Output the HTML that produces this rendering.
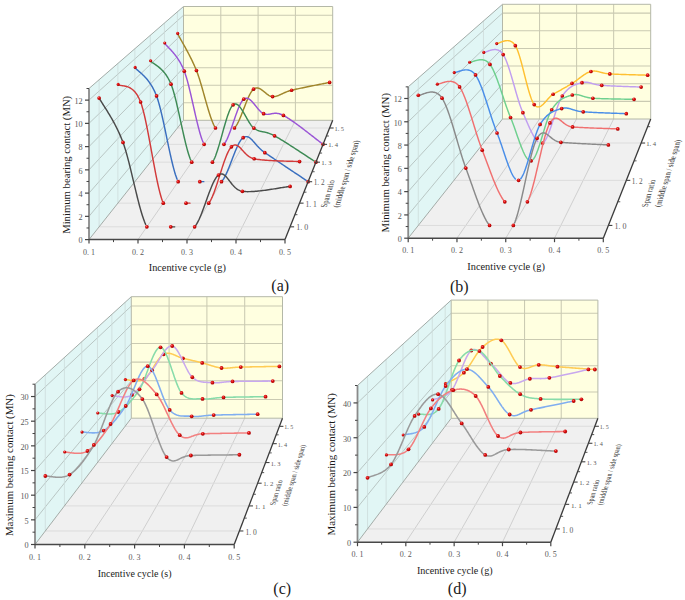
<!DOCTYPE html>
<html><head><meta charset="utf-8"><style>
html,body{margin:0;padding:0;background:#fff;}
svg{display:block;}
.ser{font-family:"Liberation Serif",serif;fill:#4a4a4a;}
.t{fill:#1a1a1a;}
.sl{fill:#5a5a5a;}
.sp{fill:#333;}
.sans{font-family:"Liberation Sans",sans-serif;fill:#1a1a1a;}
</style></head><body>
<svg width="685" height="600" viewBox="0 0 685 600">
<defs>
<radialGradient id="ball" cx="0.38" cy="0.35" r="0.7">
<stop offset="0" stop-color="#ff7a7a"/><stop offset="0.35" stop-color="#e01010"/><stop offset="1" stop-color="#a00000"/>
</radialGradient>
</defs>
<rect width="685" height="600" fill="#fff"/>
<polygon points="89.00,239.60 89.00,88.50 183.50,6.50 183.50,120.30" fill="#e1f6f5" stroke="none" stroke-width="0"/>
<polygon points="183.50,120.30 332.70,120.30 332.70,6.50 183.50,6.50" fill="#ffffe0" stroke="none" stroke-width="0"/>
<polygon points="89.00,239.60 285.00,239.60 332.70,120.30 183.50,120.30" fill="#f0f0f0" stroke="none" stroke-width="0"/>
<line x1="89.00" y1="216.35" x2="183.50" y2="102.79" stroke="#a8b1af" stroke-width="0.7" />
<line x1="183.50" y1="102.79" x2="332.70" y2="102.79" stroke="#cacab2" stroke-width="1.05" />
<line x1="89.00" y1="193.11" x2="183.50" y2="85.28" stroke="#a8b1af" stroke-width="0.7" />
<line x1="183.50" y1="85.28" x2="332.70" y2="85.28" stroke="#cacab2" stroke-width="1.05" />
<line x1="89.00" y1="169.86" x2="183.50" y2="67.78" stroke="#a8b1af" stroke-width="0.7" />
<line x1="183.50" y1="67.78" x2="332.70" y2="67.78" stroke="#cacab2" stroke-width="1.05" />
<line x1="89.00" y1="146.62" x2="183.50" y2="50.27" stroke="#a8b1af" stroke-width="0.7" />
<line x1="183.50" y1="50.27" x2="332.70" y2="50.27" stroke="#cacab2" stroke-width="1.05" />
<line x1="89.00" y1="123.37" x2="183.50" y2="32.76" stroke="#a8b1af" stroke-width="0.7" />
<line x1="183.50" y1="32.76" x2="332.70" y2="32.76" stroke="#cacab2" stroke-width="1.05" />
<line x1="89.00" y1="100.12" x2="183.50" y2="15.25" stroke="#a8b1af" stroke-width="0.7" />
<line x1="183.50" y1="15.25" x2="332.70" y2="15.25" stroke="#cacab2" stroke-width="1.05" />
<line x1="138.00" y1="239.60" x2="220.80" y2="120.30" stroke="#b8b8b8" stroke-width="0.6" />
<line x1="220.80" y1="120.30" x2="220.80" y2="6.50" stroke="#cacab2" stroke-width="1.05" />
<line x1="187.00" y1="239.60" x2="258.10" y2="120.30" stroke="#b8b8b8" stroke-width="0.6" />
<line x1="258.10" y1="120.30" x2="258.10" y2="6.50" stroke="#cacab2" stroke-width="1.05" />
<line x1="236.00" y1="239.60" x2="295.40" y2="120.30" stroke="#b8b8b8" stroke-width="0.6" />
<line x1="295.40" y1="120.30" x2="295.40" y2="6.50" stroke="#cacab2" stroke-width="1.05" />
<line x1="99.13" y1="226.82" x2="99.13" y2="79.71" stroke="#cddcda" stroke-width="0.8" />
<line x1="99.13" y1="226.82" x2="290.11" y2="226.82" stroke="#dcdcdc" stroke-width="1.0" />
<line x1="117.88" y1="203.15" x2="117.88" y2="63.44" stroke="#cddcda" stroke-width="0.8" />
<line x1="117.88" y1="203.15" x2="299.57" y2="203.15" stroke="#dcdcdc" stroke-width="1.0" />
<line x1="134.86" y1="181.70" x2="134.86" y2="48.71" stroke="#cddcda" stroke-width="0.8" />
<line x1="134.86" y1="181.70" x2="308.15" y2="181.70" stroke="#dcdcdc" stroke-width="1.0" />
<line x1="150.32" y1="162.19" x2="150.32" y2="35.29" stroke="#cddcda" stroke-width="0.8" />
<line x1="150.32" y1="162.19" x2="315.95" y2="162.19" stroke="#dcdcdc" stroke-width="1.0" />
<line x1="164.45" y1="144.35" x2="164.45" y2="23.03" stroke="#cddcda" stroke-width="0.8" />
<line x1="164.45" y1="144.35" x2="323.08" y2="144.35" stroke="#dcdcdc" stroke-width="1.0" />
<line x1="177.41" y1="127.99" x2="177.41" y2="11.78" stroke="#cddcda" stroke-width="0.8" />
<line x1="177.41" y1="127.99" x2="329.63" y2="127.99" stroke="#dcdcdc" stroke-width="1.0" />
<line x1="89.00" y1="88.50" x2="183.50" y2="6.50" stroke="#9aa39e" stroke-width="0.9" />
<line x1="89.00" y1="239.60" x2="183.50" y2="120.30" stroke="#9aa39e" stroke-width="0.9" />
<polygon points="183.50,120.30 332.70,120.30 332.70,6.50 183.50,6.50" fill="none" stroke="#b4b8a8" stroke-width="1.0"/>
<path d="M177.41,33.42 L177.66,33.90 L177.93,34.41 L178.23,34.95 L178.54,35.53 L178.88,36.14 L179.23,36.77 L179.61,37.44 L180.00,38.13 L180.41,38.86 L180.83,39.60 L181.27,40.38 L181.72,41.18 L182.19,42.00 L182.66,42.84 L183.15,43.71 L183.65,44.60 L184.16,45.52 L184.68,46.45 L185.20,47.40 L185.74,48.37 L186.27,49.36 L186.82,50.36 L187.36,51.39 L187.91,52.42 L188.47,53.48 L189.02,54.54 L189.58,55.62 L190.13,56.72 L190.68,57.82 L191.24,58.93 L191.78,60.06 L192.33,61.19 L192.87,62.34 L193.40,63.49 L193.93,64.65 L194.45,65.81 L194.96,66.98 L195.46,68.15 L195.96,69.33 L196.44,70.51 L196.91,71.72 L197.39,72.99 L197.87,74.32 L198.34,75.69 L198.82,77.11 L199.29,78.58 L199.77,80.08 L200.24,81.62 L200.72,83.19 L201.19,84.79 L201.67,86.42 L202.15,88.07 L202.62,89.73 L203.10,91.41 L203.57,93.10 L204.05,94.79 L204.52,96.49 L205.00,98.19 L205.48,99.88 L205.95,101.57 L206.43,103.24 L206.90,104.90 L207.38,106.54 L207.85,108.16 L208.33,109.75 L208.81,111.31 L209.28,112.84 L209.76,114.33 L210.23,115.78 L210.71,117.18 L211.18,118.54 L211.66,119.84 L212.14,121.09 L212.61,122.29 L213.09,123.41 L213.56,124.48 L214.04,125.47 L214.51,126.39" fill="none" stroke="#a0852a" stroke-width="1.45" stroke-linejoin="round" stroke-linecap="round"/>
<path d="M235.44,126.87 L235.92,126.20 L236.39,125.47 L236.87,124.68 L237.35,123.83 L237.82,122.92 L238.30,121.97 L238.77,120.97 L239.25,119.93 L239.72,118.86 L240.20,117.74 L240.68,116.60 L241.15,115.44 L241.63,114.25 L242.10,113.04 L242.58,111.83 L243.05,110.60 L243.53,109.36 L244.01,108.13 L244.48,106.89 L244.96,105.67 L245.43,104.45 L245.91,103.25 L246.38,102.06 L246.86,100.90 L247.34,99.76 L247.81,98.66 L248.29,97.58 L248.76,96.55 L249.24,95.56 L249.71,94.61 L250.19,93.72 L250.66,92.88 L251.14,92.10 L251.62,91.38 L252.09,90.72 L252.57,90.14 L253.04,89.63 L253.52,89.19 L253.99,88.83 L254.47,88.54 L254.95,88.30 L255.42,88.13 L255.90,88.00 L256.37,87.93 L256.85,87.91 L257.32,87.94 L257.80,88.01 L258.28,88.12 L258.75,88.27 L259.23,88.46 L259.70,88.67 L260.18,88.92 L260.65,89.20 L261.13,89.49 L261.61,89.81 L262.08,90.15 L262.56,90.51 L263.03,90.87 L263.51,91.25 L263.98,91.64 L264.46,92.03 L264.93,92.42 L265.41,92.81 L265.89,93.19 L266.36,93.57 L266.84,93.94 L267.31,94.30 L267.79,94.64 L268.26,94.97 L268.74,95.27 L269.22,95.55 L269.69,95.80 L270.17,96.03 L270.64,96.22 L271.12,96.38 L271.59,96.50 L272.07,96.58 L272.55,96.61 L273.02,96.62 L273.47,96.61 L273.92,96.58 L274.36,96.54 L274.79,96.49 L275.22,96.42 L275.64,96.34 L276.05,96.25 L276.45,96.14 L276.86,96.03 L277.26,95.90 L277.65,95.77 L278.05,95.62 L278.45,95.47 L278.84,95.31 L279.24,95.14 L279.64,94.96 L280.05,94.78 L280.46,94.59 L280.87,94.39 L281.29,94.19 L281.72,93.99 L282.15,93.78 L282.59,93.57 L283.04,93.36 L283.51,93.15 L283.98,92.93 L284.47,92.71 L284.97,92.50 L285.48,92.28 L286.01,92.07 L286.55,91.85 L287.11,91.64 L287.69,91.43 L288.28,91.23 L288.90,91.02 L289.54,90.83 L290.19,90.63 L290.87,90.45 L291.57,90.27 L292.33,90.08 L293.13,89.89 L293.98,89.69 L294.87,89.48 L295.80,89.27 L296.76,89.06 L297.76,88.84 L298.78,88.62 L299.83,88.39 L300.91,88.16 L302.01,87.93 L303.13,87.70 L304.26,87.46 L305.40,87.23 L306.56,86.99 L307.72,86.76 L308.88,86.52 L310.05,86.29 L311.21,86.05 L312.37,85.82 L313.52,85.59 L314.66,85.36 L315.79,85.14 L316.90,84.92 L317.99,84.71 L319.06,84.50 L320.10,84.29 L321.12,84.09 L322.10,83.90 L323.05,83.71 L323.97,83.53 L324.84,83.36 L325.68,83.19 L326.47,83.04 L327.21,82.89 L327.89,82.75 L328.53,82.62 L329.11,82.51 L329.63,82.40" fill="none" stroke="#a0852a" stroke-width="1.45" stroke-linejoin="round" stroke-linecap="round"/>
<circle cx="177.71" cy="33.42" r="1.57" fill="url(#ball)"/>
<circle cx="196.44" cy="70.51" r="1.85" fill="url(#ball)"/>
<circle cx="215.46" cy="127.99" r="1.85" fill="url(#ball)"/>
<circle cx="234.49" cy="127.99" r="1.85" fill="url(#ball)"/>
<circle cx="253.52" cy="89.19" r="1.85" fill="url(#ball)"/>
<circle cx="272.55" cy="96.61" r="1.85" fill="url(#ball)"/>
<circle cx="291.57" cy="90.27" r="1.85" fill="url(#ball)"/>
<circle cx="329.63" cy="82.40" r="1.85" fill="url(#ball)"/>
<path d="M164.45,43.00 L164.71,43.36 L164.99,43.72 L165.30,44.10 L165.63,44.48 L165.98,44.87 L166.35,45.27 L166.74,45.69 L167.14,46.12 L167.57,46.56 L168.01,47.01 L168.47,47.48 L168.94,47.97 L169.42,48.47 L169.92,48.99 L170.43,49.53 L170.95,50.09 L171.48,50.67 L172.02,51.26 L172.57,51.88 L173.12,52.52 L173.68,53.19 L174.25,53.87 L174.82,54.59 L175.39,55.32 L175.97,56.09 L176.55,56.87 L177.13,57.69 L177.70,58.54 L178.28,59.41 L178.85,60.32 L179.43,61.25 L179.99,62.22 L180.56,63.22 L181.11,64.25 L181.66,65.32 L182.20,66.42 L182.74,67.56 L183.26,68.73 L183.78,69.94 L184.28,71.19 L184.77,72.50 L185.27,73.92 L185.76,75.42 L186.26,77.01 L186.76,78.68 L187.25,80.42 L187.75,82.24 L188.24,84.11 L188.74,86.05 L189.23,88.03 L189.73,90.06 L190.23,92.14 L190.72,94.24 L191.22,96.38 L191.71,98.54 L192.21,100.73 L192.70,102.92 L193.20,105.12 L193.70,107.33 L194.19,109.53 L194.69,111.72 L195.18,113.90 L195.68,116.06 L196.17,118.20 L196.67,120.30 L197.17,122.36 L197.66,124.39 L198.16,126.36 L198.65,128.29 L199.15,130.15 L199.64,131.95 L200.14,133.68 L200.64,135.34 L201.13,136.91 L201.63,138.40 L202.12,139.80 L202.62,141.10 L203.11,142.29" fill="none" stroke="#9a55d6" stroke-width="1.45" stroke-linejoin="round" stroke-linecap="round"/>
<path d="M224.93,143.04 L225.42,142.26 L225.92,141.40 L226.41,140.46 L226.91,139.45 L227.41,138.38 L227.90,137.26 L228.40,136.07 L228.89,134.84 L229.39,133.56 L229.88,132.24 L230.38,130.89 L230.88,129.51 L231.37,128.10 L231.87,126.67 L232.36,125.23 L232.86,123.78 L233.35,122.32 L233.85,120.86 L234.35,119.41 L234.84,117.97 L235.34,116.54 L235.83,115.13 L236.33,113.74 L236.83,112.38 L237.32,111.06 L237.82,109.77 L238.31,108.53 L238.81,107.34 L239.30,106.20 L239.80,105.12 L240.30,104.11 L240.79,103.16 L241.29,102.29 L241.78,101.49 L242.28,100.78 L242.77,100.15 L243.27,99.62 L243.77,99.18 L244.26,98.84 L244.76,98.58 L245.25,98.39 L245.75,98.27 L246.24,98.23 L246.74,98.24 L247.24,98.32 L247.73,98.46 L248.23,98.66 L248.72,98.90 L249.22,99.20 L249.71,99.54 L250.21,99.92 L250.71,100.34 L251.20,100.80 L251.70,101.29 L252.19,101.80 L252.69,102.34 L253.18,102.90 L253.68,103.48 L254.18,104.08 L254.67,104.68 L255.17,105.30 L255.66,105.91 L256.16,106.53 L256.65,107.15 L257.15,107.76 L257.65,108.36 L258.14,108.95 L258.64,109.53 L259.13,110.08 L259.63,110.61 L260.12,111.12 L260.62,111.60 L261.12,112.04 L261.61,112.45 L262.11,112.82 L262.60,113.14 L263.10,113.42 L263.59,113.65 L264.08,113.84 L264.56,113.99 L265.03,114.12 L265.49,114.22 L265.94,114.29 L266.38,114.34 L266.81,114.37 L267.24,114.38 L267.67,114.37 L268.09,114.35 L268.50,114.31 L268.92,114.26 L269.33,114.20 L269.75,114.13 L270.16,114.05 L270.57,113.97 L270.99,113.88 L271.41,113.80 L271.84,113.71 L272.27,113.63 L272.71,113.55 L273.15,113.48 L273.60,113.42 L274.06,113.37 L274.54,113.33 L275.02,113.30 L275.51,113.29 L276.02,113.29 L276.54,113.32 L277.07,113.37 L277.62,113.44 L278.19,113.53 L278.77,113.65 L279.38,113.81 L280.00,113.99 L280.64,114.20 L281.30,114.45 L281.99,114.74 L282.69,115.06 L283.42,115.42 L284.21,115.84 L285.05,116.32 L285.93,116.84 L286.86,117.40 L287.83,118.02 L288.83,118.67 L289.87,119.36 L290.94,120.08 L292.03,120.84 L293.16,121.62 L294.30,122.43 L295.46,123.27 L296.64,124.13 L297.84,125.00 L299.04,125.89 L300.25,126.79 L301.46,127.70 L302.68,128.62 L303.89,129.54 L305.10,130.46 L306.30,131.38 L307.48,132.29 L308.66,133.20 L309.82,134.10 L310.95,134.98 L312.07,135.85 L313.15,136.69 L314.21,137.52 L315.24,138.32 L316.23,139.10 L317.19,139.84 L318.10,140.55 L318.97,141.22 L319.79,141.86 L320.56,142.45 L321.28,143.00" fill="none" stroke="#9a55d6" stroke-width="1.45" stroke-linejoin="round" stroke-linecap="round"/>
<circle cx="164.75" cy="43.00" r="1.57" fill="url(#ball)"/>
<circle cx="184.28" cy="71.19" r="1.85" fill="url(#ball)"/>
<circle cx="204.11" cy="144.35" r="1.85" fill="url(#ball)"/>
<circle cx="223.94" cy="144.35" r="1.85" fill="url(#ball)"/>
<circle cx="243.77" cy="99.18" r="1.85" fill="url(#ball)"/>
<circle cx="263.59" cy="113.65" r="1.85" fill="url(#ball)"/>
<circle cx="283.42" cy="115.42" r="1.85" fill="url(#ball)"/>
<circle cx="323.08" cy="144.35" r="1.85" fill="url(#ball)"/>
<path d="M150.32,60.77 L150.59,61.06 L150.89,61.35 L151.21,61.63 L151.55,61.92 L151.92,62.20 L152.30,62.49 L152.71,62.78 L153.13,63.08 L153.58,63.39 L154.04,63.70 L154.52,64.02 L155.01,64.36 L155.51,64.70 L156.03,65.06 L156.57,65.44 L157.11,65.83 L157.66,66.25 L158.23,66.68 L158.80,67.13 L159.38,67.61 L159.96,68.11 L160.55,68.64 L161.15,69.19 L161.75,69.77 L162.35,70.39 L162.95,71.03 L163.56,71.71 L164.16,72.42 L164.76,73.17 L165.36,73.95 L165.96,74.78 L166.55,75.64 L167.14,76.55 L167.72,77.50 L168.29,78.50 L168.86,79.54 L169.42,80.63 L169.96,81.77 L170.50,82.96 L171.02,84.20 L171.54,85.52 L172.06,86.96 L172.58,88.50 L173.09,90.14 L173.61,91.87 L174.13,93.68 L174.65,95.58 L175.16,97.55 L175.68,99.59 L176.20,101.69 L176.72,103.84 L177.23,106.04 L177.75,108.28 L178.27,110.56 L178.79,112.87 L179.30,115.21 L179.82,117.56 L180.34,119.92 L180.86,122.29 L181.37,124.66 L181.89,127.02 L182.41,129.36 L182.93,131.69 L183.45,133.99 L183.96,136.26 L184.48,138.49 L185.00,140.67 L185.52,142.80 L186.03,144.88 L186.55,146.90 L187.07,148.84 L187.59,150.71 L188.10,152.50 L188.62,154.19 L189.14,155.80 L189.66,157.30 L190.17,158.70 L190.69,159.98" fill="none" stroke="#3d8a55" stroke-width="1.45" stroke-linejoin="round" stroke-linecap="round"/>
<path d="M213.47,160.52 L213.98,159.52 L214.50,158.41 L215.02,157.21 L215.54,155.92 L216.05,154.54 L216.57,153.09 L217.09,151.57 L217.61,149.98 L218.12,148.34 L218.64,146.65 L219.16,144.91 L219.68,143.13 L220.20,141.32 L220.71,139.49 L221.23,137.64 L221.75,135.77 L222.27,133.90 L222.78,132.03 L223.30,130.17 L223.82,128.32 L224.34,126.50 L224.85,124.69 L225.37,122.93 L225.89,121.20 L226.41,119.52 L226.92,117.89 L227.44,116.32 L227.96,114.81 L228.48,113.38 L228.99,112.02 L229.51,110.75 L230.03,109.58 L230.55,108.50 L231.06,107.52 L231.58,106.66 L232.10,105.91 L232.62,105.29 L233.14,104.79 L233.65,104.42 L234.17,104.16 L234.69,103.99 L235.21,103.93 L235.72,103.95 L236.24,104.07 L236.76,104.26 L237.28,104.54 L237.79,104.89 L238.31,105.31 L238.83,105.80 L239.35,106.35 L239.86,106.95 L240.38,107.61 L240.90,108.31 L241.42,109.06 L241.93,109.85 L242.45,110.67 L242.97,111.51 L243.49,112.39 L244.00,113.28 L244.52,114.19 L245.04,115.11 L245.56,116.04 L246.08,116.97 L246.59,117.90 L247.11,118.82 L247.63,119.73 L248.15,120.62 L248.66,121.50 L249.18,122.34 L249.70,123.16 L250.22,123.95 L250.73,124.70 L251.25,125.40 L251.77,126.06 L252.29,126.66 L252.80,127.21 L253.32,127.70 L253.84,128.12 L254.35,128.49 L254.85,128.84 L255.34,129.15 L255.82,129.44 L256.29,129.71 L256.75,129.95 L257.20,130.17 L257.65,130.37 L258.09,130.55 L258.53,130.71 L258.97,130.86 L259.40,131.00 L259.83,131.12 L260.26,131.23 L260.69,131.34 L261.13,131.44 L261.56,131.53 L262.00,131.62 L262.45,131.70 L262.90,131.79 L263.35,131.88 L263.82,131.96 L264.29,132.06 L264.77,132.16 L265.26,132.26 L265.77,132.38 L266.28,132.50 L266.81,132.64 L267.35,132.79 L267.91,132.96 L268.49,133.15 L269.08,133.35 L269.69,133.57 L270.32,133.82 L270.96,134.08 L271.63,134.38 L272.33,134.70 L273.04,135.05 L273.78,135.42 L274.54,135.83 L275.37,136.29 L276.24,136.79 L277.16,137.32 L278.13,137.89 L279.14,138.49 L280.19,139.13 L281.27,139.79 L282.39,140.47 L283.53,141.18 L284.71,141.91 L285.90,142.66 L287.11,143.43 L288.35,144.21 L289.59,145.01 L290.85,145.81 L292.11,146.62 L293.38,147.44 L294.64,148.26 L295.91,149.08 L297.17,149.90 L298.42,150.72 L299.66,151.53 L300.89,152.33 L302.10,153.12 L303.29,153.90 L304.45,154.67 L305.59,155.41 L306.69,156.14 L307.76,156.84 L308.80,157.52 L309.79,158.18 L310.75,158.80 L311.65,159.40 L312.51,159.96 L313.32,160.49 L314.07,160.97" fill="none" stroke="#3d8a55" stroke-width="1.45" stroke-linejoin="round" stroke-linecap="round"/>
<circle cx="150.62" cy="60.77" r="1.57" fill="url(#ball)"/>
<circle cx="171.02" cy="84.20" r="1.85" fill="url(#ball)"/>
<circle cx="191.73" cy="162.19" r="1.85" fill="url(#ball)"/>
<circle cx="212.43" cy="162.19" r="1.85" fill="url(#ball)"/>
<circle cx="233.14" cy="104.79" r="1.85" fill="url(#ball)"/>
<circle cx="253.84" cy="128.12" r="1.85" fill="url(#ball)"/>
<circle cx="274.54" cy="135.83" r="1.85" fill="url(#ball)"/>
<circle cx="315.95" cy="162.19" r="1.85" fill="url(#ball)"/>
<path d="M134.86,67.43 L135.14,67.78 L135.45,68.14 L135.79,68.50 L136.15,68.87 L136.53,69.24 L136.94,69.62 L137.36,70.00 L137.81,70.39 L138.27,70.80 L138.75,71.22 L139.25,71.65 L139.77,72.09 L140.30,72.55 L140.84,73.03 L141.40,73.53 L141.97,74.05 L142.54,74.58 L143.13,75.15 L143.73,75.73 L144.34,76.34 L144.95,76.98 L145.57,77.64 L146.19,78.34 L146.82,79.07 L147.45,79.82 L148.08,80.62 L148.71,81.44 L149.34,82.31 L149.97,83.21 L150.60,84.15 L151.22,85.12 L151.84,86.15 L152.46,87.21 L153.07,88.32 L153.67,89.47 L154.26,90.67 L154.84,91.92 L155.41,93.22 L155.97,94.57 L156.52,95.97 L157.06,97.46 L157.60,99.07 L158.15,100.79 L158.69,102.61 L159.23,104.54 L159.77,106.55 L160.31,108.65 L160.85,110.83 L161.40,113.08 L161.94,115.39 L162.48,117.77 L163.02,120.19 L163.56,122.66 L164.10,125.16 L164.64,127.70 L165.19,130.26 L165.73,132.84 L166.27,135.43 L166.81,138.03 L167.35,140.62 L167.89,143.21 L168.43,145.78 L168.98,148.32 L169.52,150.84 L170.06,153.32 L170.60,155.76 L171.14,158.15 L171.68,160.48 L172.23,162.76 L172.77,164.96 L173.31,167.09 L173.85,169.13 L174.39,171.08 L174.93,172.94 L175.47,174.70 L176.02,176.35 L176.56,177.88 L177.10,179.28" fill="none" stroke="#3a6fbf" stroke-width="1.45" stroke-linejoin="round" stroke-linecap="round"/>
<path d="M222.59,180.43 L223.13,179.66 L223.67,178.82 L224.21,177.91 L224.75,176.93 L225.30,175.88 L225.84,174.78 L226.38,173.62 L226.92,172.42 L227.46,171.17 L228.00,169.88 L228.54,168.56 L229.09,167.21 L229.63,165.84 L230.17,164.45 L230.71,163.04 L231.25,161.62 L231.79,160.20 L232.33,158.77 L232.88,157.36 L233.42,155.95 L233.96,154.55 L234.50,153.18 L235.04,151.83 L235.58,150.50 L236.13,149.22 L236.67,147.96 L237.21,146.76 L237.75,145.60 L238.29,144.49 L238.83,143.44 L239.37,142.46 L239.92,141.54 L240.46,140.69 L241.00,139.92 L241.54,139.24 L242.08,138.63 L242.62,138.13 L243.17,137.71 L243.70,137.38 L244.22,137.11 L244.73,136.91 L245.23,136.76 L245.72,136.66 L246.21,136.62 L246.68,136.64 L247.15,136.70 L247.61,136.81 L248.07,136.97 L248.53,137.17 L248.98,137.42 L249.43,137.70 L249.88,138.02 L250.34,138.38 L250.79,138.77 L251.25,139.19 L251.71,139.64 L252.17,140.11 L252.64,140.62 L253.12,141.14 L253.60,141.69 L254.10,142.25 L254.60,142.83 L255.12,143.42 L255.64,144.03 L256.18,144.65 L256.74,145.27 L257.30,145.91 L257.89,146.54 L258.49,147.18 L259.11,147.82 L259.75,148.45 L260.40,149.08 L261.08,149.70 L261.78,150.32 L262.51,150.92 L263.25,151.51 L264.03,152.09 L264.83,152.65 L265.69,153.23 L266.60,153.85 L267.57,154.50 L268.58,155.18 L269.64,155.89 L270.73,156.63 L271.87,157.40 L273.03,158.18 L274.23,158.99 L275.46,159.81 L276.71,160.65 L277.98,161.50 L279.27,162.36 L280.57,163.24 L281.88,164.12 L283.20,165.00 L284.53,165.89 L285.86,166.78 L287.18,167.67 L288.50,168.55 L289.81,169.43 L291.11,170.30 L292.39,171.16 L293.66,172.00 L294.90,172.83 L296.11,173.65 L297.30,174.44 L298.46,175.22 L299.58,175.97 L300.67,176.69 L301.71,177.39 L302.70,178.06 L303.65,178.69 L304.55,179.29 L305.39,179.86 L306.18,180.38" fill="none" stroke="#3a6fbf" stroke-width="1.45" stroke-linejoin="round" stroke-linecap="round"/>
<line x1="199.84" y1="181.70" x2="203.84" y2="181.70" stroke="#3a6fbf" stroke-width="1.305" stroke-linecap="round"/>
<circle cx="135.16" cy="67.43" r="1.57" fill="url(#ball)"/>
<circle cx="156.52" cy="95.97" r="1.85" fill="url(#ball)"/>
<circle cx="178.18" cy="181.70" r="1.85" fill="url(#ball)"/>
<circle cx="199.84" cy="181.70" r="1.85" fill="url(#ball)"/>
<circle cx="221.50" cy="181.70" r="1.85" fill="url(#ball)"/>
<circle cx="243.17" cy="137.71" r="1.85" fill="url(#ball)"/>
<circle cx="264.83" cy="152.65" r="1.85" fill="url(#ball)"/>
<circle cx="308.15" cy="181.70" r="1.85" fill="url(#ball)"/>
<path d="M117.88,84.40 L118.17,84.61 L118.50,84.78 L118.85,84.94 L119.23,85.07 L119.63,85.19 L120.05,85.29 L120.50,85.38 L120.96,85.46 L121.45,85.54 L121.96,85.61 L122.48,85.68 L123.02,85.76 L123.57,85.85 L124.15,85.94 L124.73,86.05 L125.32,86.17 L125.93,86.32 L126.55,86.48 L127.18,86.67 L127.81,86.89 L128.45,87.14 L129.10,87.43 L129.76,87.75 L130.41,88.12 L131.07,88.52 L131.73,88.98 L132.40,89.49 L133.06,90.04 L133.72,90.66 L134.38,91.33 L135.03,92.07 L135.68,92.87 L136.33,93.74 L136.96,94.69 L137.59,95.70 L138.21,96.80 L138.82,97.98 L139.42,99.24 L140.01,100.59 L140.59,102.02 L141.16,103.59 L141.72,105.32 L142.29,107.19 L142.86,109.21 L143.43,111.36 L143.99,113.63 L144.56,116.03 L145.13,118.52 L145.70,121.12 L146.27,123.80 L146.83,126.57 L147.40,129.41 L147.97,132.31 L148.54,135.27 L149.10,138.27 L149.67,141.32 L150.24,144.39 L150.81,147.48 L151.38,150.58 L151.94,153.69 L152.51,156.79 L153.08,159.87 L153.65,162.94 L154.22,165.97 L154.78,168.96 L155.35,171.91 L155.92,174.79 L156.49,177.61 L157.05,180.36 L157.62,183.02 L158.19,185.59 L158.76,188.06 L159.33,190.42 L159.89,192.66 L160.46,194.77 L161.03,196.75 L161.60,198.59 L162.16,200.27 L162.73,201.80" fill="none" stroke="#d23a3a" stroke-width="1.45" stroke-linejoin="round" stroke-linecap="round"/>
<path d="M209.86,201.52 L210.43,200.55 L211.00,199.49 L211.56,198.34 L212.13,197.10 L212.70,195.78 L213.27,194.40 L213.84,192.94 L214.40,191.43 L214.97,189.86 L215.54,188.24 L216.11,186.58 L216.67,184.89 L217.24,183.16 L217.81,181.40 L218.38,179.63 L218.95,177.84 L219.51,176.04 L220.08,174.25 L220.65,172.45 L221.22,170.67 L221.78,168.90 L222.35,167.15 L222.92,165.43 L223.49,163.74 L224.06,162.09 L224.62,160.49 L225.19,158.93 L225.76,157.44 L226.33,156.00 L226.89,154.63 L227.46,153.34 L228.03,152.12 L228.60,150.99 L229.17,149.96 L229.73,149.02 L230.30,148.18 L230.87,147.45 L231.44,146.84 L232.00,146.33 L232.55,145.90 L233.08,145.57 L233.61,145.31 L234.12,145.12 L234.63,145.02 L235.13,144.98 L235.62,145.00 L236.10,145.09 L236.58,145.23 L237.06,145.44 L237.54,145.69 L238.01,145.99 L238.48,146.33 L238.96,146.71 L239.43,147.13 L239.91,147.59 L240.39,148.07 L240.88,148.58 L241.37,149.11 L241.87,149.66 L242.38,150.22 L242.90,150.79 L243.43,151.38 L243.97,151.96 L244.52,152.55 L245.09,153.13 L245.67,153.71 L246.26,154.27 L246.87,154.83 L247.50,155.36 L248.15,155.87 L248.82,156.36 L249.51,156.82 L250.22,157.24 L250.96,157.63 L251.72,157.99 L252.50,158.29 L253.31,158.55 L254.15,158.76 L255.05,158.95 L256.01,159.12 L257.02,159.29 L258.09,159.44 L259.19,159.59 L260.34,159.73 L261.53,159.86 L262.76,159.98 L264.01,160.09 L265.30,160.20 L266.61,160.30 L267.94,160.39 L269.29,160.48 L270.66,160.56 L272.03,160.63 L273.42,160.70 L274.81,160.77 L276.20,160.83 L277.59,160.88 L278.97,160.93 L280.35,160.98 L281.71,161.02 L283.05,161.07 L284.38,161.10 L285.68,161.14 L286.96,161.17 L288.20,161.20 L289.42,161.23 L290.59,161.26 L291.73,161.29 L292.82,161.32 L293.87,161.35 L294.86,161.37 L295.80,161.40 L296.68,161.43 L297.51,161.46 L298.27,161.49 L298.96,161.52 L299.57,161.56" fill="none" stroke="#d23a3a" stroke-width="1.45" stroke-linejoin="round" stroke-linecap="round"/>
<line x1="186.01" y1="203.15" x2="190.01" y2="203.15" stroke="#d23a3a" stroke-width="1.305" stroke-linecap="round"/>
<circle cx="118.18" cy="84.40" r="1.57" fill="url(#ball)"/>
<circle cx="140.59" cy="102.02" r="1.85" fill="url(#ball)"/>
<circle cx="163.30" cy="203.15" r="1.85" fill="url(#ball)"/>
<circle cx="186.01" cy="203.15" r="1.85" fill="url(#ball)"/>
<circle cx="208.72" cy="203.15" r="1.85" fill="url(#ball)"/>
<circle cx="231.44" cy="146.84" r="1.85" fill="url(#ball)"/>
<circle cx="254.15" cy="158.76" r="1.85" fill="url(#ball)"/>
<circle cx="299.57" cy="161.56" r="1.85" fill="url(#ball)"/>
<path d="M99.13,98.05 L99.44,98.62 L99.78,99.22 L100.15,99.84 L100.55,100.50 L100.97,101.19 L101.41,101.91 L101.88,102.66 L102.37,103.44 L102.88,104.24 L103.41,105.08 L103.96,105.94 L104.53,106.83 L105.12,107.75 L105.72,108.70 L106.33,109.67 L106.96,110.67 L107.59,111.70 L108.24,112.76 L108.90,113.84 L109.57,114.95 L110.24,116.08 L110.93,117.25 L111.61,118.43 L112.30,119.65 L113.00,120.89 L113.69,122.15 L114.39,123.44 L115.08,124.75 L115.78,126.09 L116.47,127.46 L117.16,128.85 L117.84,130.26 L118.52,131.69 L119.19,133.15 L119.85,134.64 L120.50,136.15 L121.15,137.68 L121.78,139.23 L122.39,140.80 L123.00,142.40 L123.60,144.06 L124.19,145.82 L124.79,147.67 L125.39,149.60 L125.98,151.62 L126.58,153.70 L127.18,155.86 L127.77,158.07 L128.37,160.35 L128.97,162.67 L129.56,165.04 L130.16,167.44 L130.76,169.88 L131.35,172.35 L131.95,174.83 L132.55,177.34 L133.14,179.85 L133.74,182.36 L134.34,184.88 L134.93,187.38 L135.53,189.87 L136.13,192.35 L136.73,194.79 L137.32,197.21 L137.92,199.58 L138.52,201.92 L139.11,204.21 L139.71,206.44 L140.31,208.61 L140.90,210.71 L141.50,212.74 L142.10,214.70 L142.69,216.57 L143.29,218.35 L143.89,220.03 L144.48,221.61 L145.08,223.09 L145.68,224.45" fill="none" stroke="#4a4a4a" stroke-width="1.45" stroke-linejoin="round" stroke-linecap="round"/>
<path d="M195.81,225.31 L196.41,224.42 L197.01,223.43 L197.60,222.35 L198.20,221.20 L198.80,219.97 L199.39,218.68 L199.99,217.32 L200.59,215.91 L201.18,214.44 L201.78,212.93 L202.38,211.38 L202.97,209.80 L203.57,208.19 L204.17,206.55 L204.76,204.90 L205.36,203.23 L205.96,201.56 L206.55,199.89 L207.15,198.22 L207.75,196.56 L208.34,194.92 L208.94,193.31 L209.54,191.72 L210.14,190.16 L210.73,188.64 L211.33,187.17 L211.93,185.74 L212.52,184.37 L213.12,183.07 L213.72,181.83 L214.31,180.66 L214.91,179.57 L215.51,178.56 L216.10,177.65 L216.70,176.83 L217.30,176.11 L217.89,175.49 L218.49,174.99 L219.08,174.60 L219.66,174.30 L220.22,174.08 L220.77,173.96 L221.31,173.91 L221.84,173.95 L222.37,174.05 L222.88,174.23 L223.39,174.47 L223.90,174.77 L224.40,175.13 L224.90,175.54 L225.40,176.00 L225.90,176.50 L226.39,177.04 L226.89,177.62 L227.40,178.23 L227.90,178.87 L228.42,179.53 L228.94,180.20 L229.46,180.90 L230.00,181.60 L230.54,182.31 L231.10,183.02 L231.66,183.73 L232.24,184.44 L232.84,185.13 L233.45,185.81 L234.07,186.47 L234.72,187.10 L235.38,187.71 L236.06,188.29 L236.76,188.83 L237.49,189.34 L238.24,189.80 L239.01,190.21 L239.81,190.57 L240.63,190.87 L241.48,191.11 L242.36,191.29 L243.31,191.42 L244.32,191.52 L245.39,191.59 L246.50,191.64 L247.66,191.66 L248.87,191.65 L250.12,191.63 L251.41,191.58 L252.73,191.51 L254.08,191.42 L255.46,191.31 L256.86,191.19 L258.28,191.05 L259.72,190.90 L261.16,190.73 L262.62,190.56 L264.08,190.37 L265.54,190.18 L267.00,189.98 L268.46,189.77 L269.90,189.55 L271.33,189.34 L272.74,189.12 L274.14,188.90 L275.51,188.68 L276.85,188.47 L278.16,188.25 L279.43,188.04 L280.67,187.84 L281.86,187.65 L283.01,187.46 L284.11,187.28 L285.16,187.11 L286.14,186.96 L287.07,186.82 L287.94,186.69 L288.73,186.58 L289.46,186.49 L290.11,186.42" fill="none" stroke="#4a4a4a" stroke-width="1.45" stroke-linejoin="round" stroke-linecap="round"/>
<line x1="170.74" y1="226.82" x2="174.74" y2="226.82" stroke="#4a4a4a" stroke-width="1.305" stroke-linecap="round"/>
<circle cx="99.13" cy="98.05" r="1.85" fill="url(#ball)"/>
<circle cx="123.00" cy="142.40" r="1.85" fill="url(#ball)"/>
<circle cx="146.87" cy="226.82" r="1.85" fill="url(#ball)"/>
<circle cx="170.74" cy="226.82" r="1.85" fill="url(#ball)"/>
<circle cx="194.62" cy="226.82" r="1.85" fill="url(#ball)"/>
<circle cx="218.49" cy="174.99" r="1.85" fill="url(#ball)"/>
<circle cx="242.36" cy="191.29" r="1.85" fill="url(#ball)"/>
<circle cx="290.11" cy="186.42" r="1.85" fill="url(#ball)"/>
<line x1="89.00" y1="239.60" x2="89.00" y2="88.50" stroke="#8a8a8a" stroke-width="1.8" />
<line x1="89.00" y1="239.60" x2="285.00" y2="239.60" stroke="#484848" stroke-width="1.5" />
<line x1="285.00" y1="239.60" x2="332.70" y2="120.30" stroke="#3a3a3a" stroke-width="1.3" />
<line x1="85.00" y1="239.60" x2="89.00" y2="239.60" stroke="#444444" stroke-width="1.2" />
<text x="82.70" y="243.40" text-anchor="end" class="ser sl" font-size="8.2">0</text>
<line x1="85.00" y1="216.35" x2="89.00" y2="216.35" stroke="#444444" stroke-width="1.2" />
<text x="82.70" y="220.15" text-anchor="end" class="ser sl" font-size="8.2">2</text>
<line x1="85.00" y1="193.11" x2="89.00" y2="193.11" stroke="#444444" stroke-width="1.2" />
<text x="82.70" y="196.91" text-anchor="end" class="ser sl" font-size="8.2">4</text>
<line x1="85.00" y1="169.86" x2="89.00" y2="169.86" stroke="#444444" stroke-width="1.2" />
<text x="82.70" y="173.66" text-anchor="end" class="ser sl" font-size="8.2">6</text>
<line x1="85.00" y1="146.62" x2="89.00" y2="146.62" stroke="#444444" stroke-width="1.2" />
<text x="82.70" y="150.42" text-anchor="end" class="ser sl" font-size="8.2">8</text>
<line x1="85.00" y1="123.37" x2="89.00" y2="123.37" stroke="#444444" stroke-width="1.2" />
<text x="82.70" y="127.17" text-anchor="end" class="ser sl" font-size="8.2">10</text>
<line x1="85.00" y1="100.12" x2="89.00" y2="100.12" stroke="#444444" stroke-width="1.2" />
<text x="82.70" y="103.92" text-anchor="end" class="ser sl" font-size="8.2">12</text>
<line x1="86.50" y1="227.98" x2="89.00" y2="227.98" stroke="#444444" stroke-width="1.0" />
<line x1="86.50" y1="204.73" x2="89.00" y2="204.73" stroke="#444444" stroke-width="1.0" />
<line x1="86.50" y1="181.48" x2="89.00" y2="181.48" stroke="#444444" stroke-width="1.0" />
<line x1="86.50" y1="158.24" x2="89.00" y2="158.24" stroke="#444444" stroke-width="1.0" />
<line x1="86.50" y1="134.99" x2="89.00" y2="134.99" stroke="#444444" stroke-width="1.0" />
<line x1="86.50" y1="111.75" x2="89.00" y2="111.75" stroke="#444444" stroke-width="1.0" />
<line x1="86.50" y1="88.50" x2="89.00" y2="88.50" stroke="#444444" stroke-width="1.0" />
<line x1="89.00" y1="239.60" x2="89.00" y2="243.60" stroke="#444444" stroke-width="1.2" />
<text x="89.00" y="254.60" text-anchor="middle" class="ser sl" font-size="8">0. 1</text>
<line x1="138.00" y1="239.60" x2="138.00" y2="243.60" stroke="#444444" stroke-width="1.2" />
<text x="138.00" y="254.60" text-anchor="middle" class="ser sl" font-size="8">0. 2</text>
<line x1="187.00" y1="239.60" x2="187.00" y2="243.60" stroke="#444444" stroke-width="1.2" />
<text x="187.00" y="254.60" text-anchor="middle" class="ser sl" font-size="8">0. 3</text>
<line x1="236.00" y1="239.60" x2="236.00" y2="243.60" stroke="#444444" stroke-width="1.2" />
<text x="236.00" y="254.60" text-anchor="middle" class="ser sl" font-size="8">0. 4</text>
<line x1="285.00" y1="239.60" x2="285.00" y2="243.60" stroke="#444444" stroke-width="1.2" />
<text x="285.00" y="254.60" text-anchor="middle" class="ser sl" font-size="8">0. 5</text>
<line x1="113.50" y1="239.60" x2="113.50" y2="242.10" stroke="#444444" stroke-width="1.0" />
<line x1="162.50" y1="239.60" x2="162.50" y2="242.10" stroke="#444444" stroke-width="1.0" />
<line x1="211.50" y1="239.60" x2="211.50" y2="242.10" stroke="#444444" stroke-width="1.0" />
<line x1="260.50" y1="239.60" x2="260.50" y2="242.10" stroke="#444444" stroke-width="1.0" />
<line x1="290.11" y1="226.82" x2="294.11" y2="226.82" stroke="#444444" stroke-width="1.1" />
<text x="296.25" y="230.42" class="ser sl" font-size="7.99">1. 0</text>
<line x1="299.57" y1="203.15" x2="303.57" y2="203.15" stroke="#444444" stroke-width="1.1" />
<text x="305.41" y="206.58" class="ser sl" font-size="7.60">1. 1</text>
<line x1="308.15" y1="181.70" x2="312.15" y2="181.70" stroke="#444444" stroke-width="1.1" />
<text x="313.71" y="184.97" class="ser sl" font-size="7.24">1. 2</text>
<line x1="315.95" y1="162.19" x2="319.95" y2="162.19" stroke="#444444" stroke-width="1.1" />
<text x="321.27" y="165.31" class="ser sl" font-size="6.92">1. 3</text>
<line x1="323.08" y1="144.35" x2="327.08" y2="144.35" stroke="#444444" stroke-width="1.1" />
<text x="328.18" y="147.34" class="ser sl" font-size="6.63">1. 4</text>
<line x1="329.63" y1="127.99" x2="333.63" y2="127.99" stroke="#444444" stroke-width="1.1" />
<text x="334.51" y="130.86" class="ser sl" font-size="6.36">1. 5</text>
<line x1="294.96" y1="214.68" x2="297.46" y2="214.68" stroke="#444444" stroke-width="0.9" />
<line x1="303.97" y1="192.17" x2="306.47" y2="192.17" stroke="#444444" stroke-width="0.9" />
<line x1="312.14" y1="171.72" x2="314.64" y2="171.72" stroke="#444444" stroke-width="0.9" />
<line x1="319.60" y1="153.07" x2="322.10" y2="153.07" stroke="#444444" stroke-width="0.9" />
<line x1="326.42" y1="136.00" x2="328.92" y2="136.00" stroke="#444444" stroke-width="0.9" />
<polygon points="408.20,238.20 408.20,86.85 502.50,4.30 502.50,119.00" fill="#e1f6f5" stroke="none" stroke-width="0"/>
<polygon points="502.50,119.00 650.70,119.00 650.70,4.30 502.50,4.30" fill="#ffffe0" stroke="none" stroke-width="0"/>
<polygon points="408.20,238.20 603.30,238.20 650.70,119.00 502.50,119.00" fill="#f0f0f0" stroke="none" stroke-width="0"/>
<line x1="408.20" y1="214.92" x2="502.50" y2="101.35" stroke="#a8b1af" stroke-width="0.7" />
<line x1="502.50" y1="101.35" x2="650.70" y2="101.35" stroke="#cacab2" stroke-width="1.05" />
<line x1="408.20" y1="191.63" x2="502.50" y2="83.71" stroke="#a8b1af" stroke-width="0.7" />
<line x1="502.50" y1="83.71" x2="650.70" y2="83.71" stroke="#cacab2" stroke-width="1.05" />
<line x1="408.20" y1="168.35" x2="502.50" y2="66.06" stroke="#a8b1af" stroke-width="0.7" />
<line x1="502.50" y1="66.06" x2="650.70" y2="66.06" stroke="#cacab2" stroke-width="1.05" />
<line x1="408.20" y1="145.06" x2="502.50" y2="48.42" stroke="#a8b1af" stroke-width="0.7" />
<line x1="502.50" y1="48.42" x2="650.70" y2="48.42" stroke="#cacab2" stroke-width="1.05" />
<line x1="408.20" y1="121.78" x2="502.50" y2="30.77" stroke="#a8b1af" stroke-width="0.7" />
<line x1="502.50" y1="30.77" x2="650.70" y2="30.77" stroke="#cacab2" stroke-width="1.05" />
<line x1="408.20" y1="98.49" x2="502.50" y2="13.12" stroke="#a8b1af" stroke-width="0.7" />
<line x1="502.50" y1="13.12" x2="650.70" y2="13.12" stroke="#cacab2" stroke-width="1.05" />
<line x1="456.97" y1="238.20" x2="539.55" y2="119.00" stroke="#b8b8b8" stroke-width="0.6" />
<line x1="539.55" y1="119.00" x2="539.55" y2="4.30" stroke="#cacab2" stroke-width="1.05" />
<line x1="505.75" y1="238.20" x2="576.60" y2="119.00" stroke="#b8b8b8" stroke-width="0.6" />
<line x1="576.60" y1="119.00" x2="576.60" y2="4.30" stroke="#cacab2" stroke-width="1.05" />
<line x1="554.52" y1="238.20" x2="613.65" y2="119.00" stroke="#b8b8b8" stroke-width="0.6" />
<line x1="613.65" y1="119.00" x2="613.65" y2="4.30" stroke="#cacab2" stroke-width="1.05" />
<line x1="418.30" y1="225.43" x2="418.30" y2="78.01" stroke="#cddcda" stroke-width="0.8" />
<line x1="418.30" y1="225.43" x2="608.38" y2="225.43" stroke="#dcdcdc" stroke-width="1.0" />
<line x1="453.96" y1="180.35" x2="453.96" y2="46.79" stroke="#cddcda" stroke-width="0.8" />
<line x1="453.96" y1="180.35" x2="626.30" y2="180.35" stroke="#dcdcdc" stroke-width="1.0" />
<line x1="483.49" y1="143.03" x2="483.49" y2="20.94" stroke="#cddcda" stroke-width="0.8" />
<line x1="483.49" y1="143.03" x2="641.14" y2="143.03" stroke="#dcdcdc" stroke-width="1.0" />
<line x1="408.20" y1="86.85" x2="502.50" y2="4.30" stroke="#9aa39e" stroke-width="0.9" />
<line x1="408.20" y1="238.20" x2="502.50" y2="119.00" stroke="#9aa39e" stroke-width="0.9" />
<polygon points="502.50,119.00 650.70,119.00 650.70,4.30 502.50,4.30" fill="none" stroke="#b4b8a8" stroke-width="1.0"/>
<path d="M496.42,43.57 L496.67,43.58 L496.94,43.56 L497.24,43.51 L497.55,43.43 L497.88,43.34 L498.24,43.22 L498.61,43.09 L498.99,42.94 L499.40,42.78 L499.82,42.61 L500.26,42.43 L500.71,42.25 L501.17,42.06 L501.64,41.88 L502.13,41.69 L502.62,41.52 L503.13,41.35 L503.64,41.19 L504.17,41.05 L504.69,40.92 L505.23,40.81 L505.77,40.72 L506.31,40.66 L506.86,40.62 L507.41,40.61 L507.96,40.63 L508.51,40.68 L509.06,40.78 L509.61,40.90 L510.16,41.08 L510.70,41.29 L511.24,41.55 L511.78,41.87 L512.31,42.23 L512.83,42.65 L513.35,43.12 L513.86,43.65 L514.36,44.25 L514.85,44.91 L515.33,45.64 L515.80,46.46 L516.27,47.38 L516.74,48.41 L517.22,49.54 L517.69,50.75 L518.16,52.05 L518.63,53.43 L519.11,54.89 L519.58,56.41 L520.05,57.99 L520.52,59.62 L521.00,61.31 L521.47,63.04 L521.94,64.80 L522.42,66.60 L522.89,68.42 L523.36,70.27 L523.83,72.12 L524.31,73.99 L524.78,75.85 L525.25,77.72 L525.72,79.57 L526.20,81.41 L526.67,83.22 L527.14,85.01 L527.61,86.77 L528.09,88.48 L528.56,90.15 L529.03,91.77 L529.50,93.34 L529.98,94.84 L530.45,96.27 L530.92,97.62 L531.39,98.90 L531.87,100.09 L532.34,101.18 L532.81,102.18 L533.28,103.08 L533.76,103.86 L534.23,104.53 L534.70,105.09 L535.17,105.58 L535.65,105.98 L536.12,106.31 L536.59,106.56 L537.06,106.74 L537.54,106.86 L538.01,106.91 L538.48,106.90 L538.96,106.84 L539.43,106.72 L539.90,106.55 L540.37,106.33 L540.85,106.07 L541.32,105.77 L541.79,105.43 L542.26,105.05 L542.74,104.65 L543.21,104.21 L543.68,103.75 L544.15,103.27 L544.63,102.77 L545.10,102.26 L545.57,101.73 L546.04,101.19 L546.52,100.65 L546.99,100.10 L547.46,99.56 L547.93,99.02 L548.41,98.49 L548.88,97.97 L549.35,97.46 L549.82,96.97 L550.30,96.49 L550.77,96.05 L551.24,95.62 L551.71,95.23 L552.19,94.87 L552.66,94.55 L553.13,94.26 L553.60,94.00 L554.08,93.74 L554.55,93.47 L555.02,93.21 L555.50,92.95 L555.97,92.68 L556.44,92.42 L556.91,92.16 L557.39,91.89 L557.86,91.63 L558.33,91.36 L558.80,91.10 L559.28,90.83 L559.75,90.57 L560.22,90.30 L560.69,90.04 L561.17,89.77 L561.64,89.50 L562.11,89.24 L562.58,88.97 L563.06,88.70 L563.53,88.43 L564.00,88.16 L564.47,87.89 L564.95,87.62 L565.42,87.35 L565.89,87.08 L566.36,86.80 L566.84,86.53 L567.31,86.25 L567.78,85.98 L568.25,85.70 L568.73,85.43 L569.20,85.15 L569.67,84.87 L570.14,84.59 L570.62,84.31 L571.09,84.03 L571.56,83.74 L572.03,83.46 L572.51,83.17 L572.98,82.87 L573.45,82.56 L573.93,82.24 L574.40,81.92 L574.87,81.59 L575.34,81.25 L575.82,80.91 L576.29,80.56 L576.76,80.21 L577.23,79.85 L577.71,79.50 L578.18,79.14 L578.65,78.78 L579.12,78.42 L579.60,78.06 L580.07,77.70 L580.54,77.35 L581.01,76.99 L581.49,76.64 L581.96,76.30 L582.43,75.96 L582.90,75.62 L583.38,75.29 L583.85,74.97 L584.32,74.65 L584.79,74.35 L585.27,74.05 L585.74,73.77 L586.21,73.49 L586.68,73.23 L587.16,72.97 L587.63,72.73 L588.10,72.51 L588.57,72.30 L589.05,72.10 L589.52,71.92 L589.99,71.76 L590.47,71.61 L590.94,71.48 L591.40,71.37 L591.86,71.28 L592.31,71.20 L592.74,71.15 L593.17,71.10 L593.59,71.08 L594.01,71.06 L594.42,71.06 L594.82,71.08 L595.22,71.10 L595.62,71.14 L596.01,71.19 L596.41,71.25 L596.80,71.31 L597.20,71.39 L597.59,71.47 L597.99,71.56 L598.39,71.66 L598.80,71.76 L599.21,71.87 L599.62,71.98 L600.05,72.10 L600.48,72.21 L600.92,72.33 L601.37,72.45 L601.83,72.57 L602.30,72.70 L602.78,72.82 L603.28,72.93 L603.79,73.05 L604.31,73.16 L604.85,73.27 L605.41,73.37 L605.98,73.47 L606.57,73.57 L607.18,73.65 L607.82,73.73 L608.47,73.80 L609.14,73.86 L609.84,73.91 L610.59,73.96 L611.39,74.01 L612.23,74.05 L613.12,74.10 L614.04,74.14 L614.99,74.18 L615.98,74.23 L617.00,74.27 L618.05,74.31 L619.12,74.35 L620.21,74.39 L621.32,74.43 L622.44,74.47 L623.58,74.50 L624.73,74.54 L625.88,74.58 L627.03,74.61 L628.19,74.65 L629.35,74.68 L630.50,74.71 L631.64,74.74 L632.78,74.77 L633.89,74.80 L635.00,74.83 L636.08,74.86 L637.14,74.89 L638.18,74.92 L639.19,74.94 L640.17,74.97 L641.12,74.99 L642.02,75.02 L642.89,75.04 L643.72,75.06 L644.51,75.08 L645.24,75.10 L645.93,75.12 L646.56,75.14 L647.13,75.16 L647.65,75.17" fill="none" stroke="#ffc030" stroke-width="1.45" stroke-linejoin="round" stroke-linecap="round"/>
<circle cx="496.72" cy="43.57" r="1.57" fill="url(#ball)"/>
<circle cx="515.33" cy="45.64" r="1.85" fill="url(#ball)"/>
<circle cx="534.23" cy="104.53" r="1.85" fill="url(#ball)"/>
<circle cx="553.13" cy="94.26" r="1.85" fill="url(#ball)"/>
<circle cx="572.03" cy="83.46" r="1.85" fill="url(#ball)"/>
<circle cx="590.94" cy="71.48" r="1.85" fill="url(#ball)"/>
<circle cx="609.84" cy="73.91" r="1.85" fill="url(#ball)"/>
<circle cx="647.65" cy="75.17" r="1.85" fill="url(#ball)"/>
<path d="M483.49,52.40 L483.75,52.42 L484.03,52.40 L484.33,52.35 L484.66,52.28 L485.01,52.19 L485.38,52.08 L485.76,51.95 L486.17,51.80 L486.59,51.65 L487.03,51.48 L487.48,51.31 L487.95,51.13 L488.43,50.95 L488.93,50.77 L489.43,50.60 L489.95,50.43 L490.48,50.26 L491.01,50.11 L491.56,49.97 L492.11,49.85 L492.67,49.75 L493.23,49.66 L493.80,49.60 L494.37,49.57 L494.94,49.56 L495.51,49.58 L496.09,49.64 L496.66,49.73 L497.24,49.87 L497.81,50.04 L498.37,50.25 L498.94,50.52 L499.50,50.83 L500.05,51.19 L500.60,51.60 L501.14,52.07 L501.67,52.60 L502.19,53.19 L502.70,53.84 L503.19,54.56 L503.69,55.36 L504.18,56.24 L504.67,57.20 L505.17,58.24 L505.66,59.34 L506.15,60.52 L506.64,61.76 L507.14,63.05 L507.63,64.41 L508.12,65.81 L508.61,67.27 L509.11,68.77 L509.60,70.30 L510.09,71.88 L510.58,73.49 L511.08,75.12 L511.57,76.78 L512.06,78.46 L512.56,80.16 L513.05,81.87 L513.54,83.59 L514.03,85.31 L514.53,87.04 L515.02,88.76 L515.51,90.47 L516.00,92.18 L516.50,93.87 L516.99,95.54 L517.48,97.19 L517.98,98.81 L518.47,100.40 L518.96,101.95 L519.45,103.47 L519.95,104.95 L520.44,106.38 L520.93,107.76 L521.42,109.08 L521.92,110.35 L522.41,111.56 L522.90,112.70 L523.39,113.81 L523.89,114.93 L524.38,116.07 L524.87,117.21 L525.37,118.35 L525.86,119.49 L526.35,120.64 L526.84,121.78 L527.34,122.92 L527.83,124.05 L528.32,125.17 L528.81,126.28 L529.31,127.37 L529.80,128.45 L530.29,129.51 L530.78,130.55 L531.28,131.56 L531.77,132.55 L532.26,133.51 L532.76,134.44 L533.25,135.34 L533.74,136.20 L534.23,137.02 L534.73,137.80 L535.22,138.55 L535.71,139.24 L536.20,139.89 L536.70,140.50 L537.19,141.05 L537.68,141.54" fill="none" stroke="#c09ef0" stroke-width="1.45" stroke-linejoin="round" stroke-linecap="round"/>
<path d="M544.09,141.90 L544.58,141.31 L545.07,140.62 L545.56,139.85 L546.06,138.98 L546.55,138.04 L547.04,137.01 L547.54,135.92 L548.03,134.76 L548.52,133.54 L549.01,132.27 L549.51,130.94 L550.00,129.57 L550.49,128.17 L550.98,126.72 L551.48,125.25 L551.97,123.75 L552.46,122.24 L552.95,120.71 L553.45,119.17 L553.94,117.63 L554.43,116.09 L554.93,114.56 L555.42,113.04 L555.91,111.54 L556.40,110.06 L556.90,108.60 L557.39,107.19 L557.88,105.81 L558.37,104.47 L558.87,103.18 L559.36,101.95 L559.85,100.78 L560.35,99.67 L560.84,98.63 L561.33,97.66 L561.82,96.78 L562.32,95.98 L562.81,95.24 L563.30,94.53 L563.79,93.86 L564.29,93.21 L564.78,92.59 L565.27,92.00 L565.76,91.44 L566.26,90.90 L566.75,90.39 L567.24,89.90 L567.74,89.44 L568.23,89.00 L568.72,88.58 L569.21,88.18 L569.71,87.80 L570.20,87.45 L570.69,87.11 L571.18,86.79 L571.68,86.49 L572.17,86.20 L572.66,85.93 L573.15,85.68 L573.65,85.43 L574.14,85.20 L574.63,84.99 L575.13,84.78 L575.62,84.59 L576.11,84.40 L576.60,84.23 L577.10,84.06 L577.59,83.90 L578.08,83.75 L578.57,83.60 L579.07,83.45 L579.56,83.31 L580.05,83.18 L580.54,83.04 L581.04,82.91 L581.53,82.78 L582.02,82.65 L582.51,82.52 L582.98,82.42 L583.45,82.34 L583.90,82.27 L584.35,82.22 L584.79,82.19 L585.22,82.18 L585.65,82.18 L586.07,82.19 L586.49,82.22 L586.90,82.26 L587.31,82.31 L587.72,82.38 L588.14,82.45 L588.55,82.54 L588.96,82.63 L589.37,82.73 L589.79,82.84 L590.22,82.95 L590.64,83.07 L591.08,83.19 L591.52,83.32 L591.97,83.45 L592.43,83.58 L592.90,83.72 L593.38,83.85 L593.87,83.99 L594.37,84.12 L594.89,84.25 L595.42,84.38 L595.96,84.51 L596.53,84.63 L597.11,84.75 L597.71,84.86 L598.32,84.97 L598.96,85.07 L599.62,85.16 L600.30,85.24 L601.00,85.31 L601.73,85.37 L602.51,85.43 L603.35,85.48 L604.22,85.54 L605.14,85.59 L606.10,85.65 L607.10,85.70 L608.13,85.76 L609.20,85.81 L610.29,85.86 L611.40,85.92 L612.54,85.97 L613.70,86.02 L614.87,86.07 L616.05,86.12 L617.25,86.17 L618.45,86.22 L619.66,86.27 L620.86,86.31 L622.07,86.36 L623.27,86.41 L624.46,86.45 L625.64,86.49 L626.81,86.54 L627.96,86.58 L629.09,86.62 L630.20,86.66 L631.28,86.70 L632.33,86.73 L633.35,86.77 L634.34,86.81 L635.28,86.84 L636.19,86.87 L637.05,86.90 L637.87,86.93 L638.64,86.96 L639.35,86.99 L640.01,87.01 L640.61,87.04 L641.14,87.06" fill="none" stroke="#c09ef0" stroke-width="1.45" stroke-linejoin="round" stroke-linecap="round"/>
<circle cx="483.79" cy="52.40" r="1.57" fill="url(#ball)"/>
<circle cx="503.19" cy="54.56" r="1.85" fill="url(#ball)"/>
<circle cx="522.90" cy="112.70" r="1.85" fill="url(#ball)"/>
<circle cx="542.61" cy="143.03" r="1.85" fill="url(#ball)"/>
<circle cx="562.32" cy="95.98" r="1.85" fill="url(#ball)"/>
<circle cx="582.02" cy="82.65" r="1.85" fill="url(#ball)"/>
<circle cx="601.73" cy="85.37" r="1.85" fill="url(#ball)"/>
<circle cx="641.14" cy="87.06" r="1.85" fill="url(#ball)"/>
<path d="M469.39,62.23 L469.66,62.25 L469.95,62.23 L470.27,62.19 L470.61,62.13 L470.98,62.05 L471.36,61.95 L471.77,61.84 L472.19,61.71 L472.63,61.57 L473.09,61.43 L473.56,61.28 L474.05,61.12 L474.55,60.96 L475.07,60.80 L475.60,60.65 L476.14,60.50 L476.69,60.35 L477.25,60.22 L477.82,60.10 L478.39,59.99 L478.98,59.91 L479.56,59.83 L480.16,59.78 L480.75,59.76 L481.35,59.76 L481.95,59.79 L482.55,59.84 L483.15,59.93 L483.75,60.06 L484.34,60.22 L484.94,60.42 L485.53,60.67 L486.11,60.95 L486.69,61.29 L487.26,61.67 L487.82,62.10 L488.38,62.59 L488.92,63.13 L489.45,63.73 L489.97,64.39 L490.49,65.12 L491.00,65.91 L491.52,66.77 L492.03,67.68 L492.55,68.66 L493.06,69.69 L493.57,70.77 L494.09,71.91 L494.60,73.09 L495.12,74.31 L495.63,75.58 L496.15,76.88 L496.66,78.22 L497.18,79.59 L497.69,81.00 L498.21,82.43 L498.72,83.88 L499.24,85.36 L499.75,86.85 L500.26,88.36 L500.78,89.88 L501.29,91.42 L501.81,92.96 L502.32,94.50 L502.84,96.05 L503.35,97.59 L503.87,99.13 L504.38,100.66 L504.90,102.19 L505.41,103.70 L505.92,105.19 L506.44,106.67 L506.95,108.13 L507.47,109.56 L507.98,110.96 L508.50,112.34 L509.01,113.68 L509.53,114.98 L510.04,116.25 L510.56,117.48 L511.07,118.71 L511.59,119.98 L512.10,121.29 L512.61,122.64 L513.13,124.01 L513.64,125.42 L514.16,126.84 L514.67,128.29 L515.19,129.75 L515.70,131.22 L516.22,132.70 L516.73,134.18 L517.25,135.66 L517.76,137.14 L518.27,138.61 L518.79,140.07 L519.30,141.50 L519.82,142.92 L520.33,144.32 L520.85,145.68 L521.36,147.01 L521.88,148.31 L522.39,149.56 L522.91,150.77 L523.42,151.94 L523.94,153.05 L524.45,154.10 L524.96,155.09 L525.48,156.02 L525.99,156.88 L526.51,157.67 L527.02,158.38 L527.54,159.01 L528.05,159.56" fill="none" stroke="#6fd08f" stroke-width="1.45" stroke-linejoin="round" stroke-linecap="round"/>
<path d="M533.20,159.40 L533.71,158.74 L534.23,157.96 L534.74,157.07 L535.26,156.09 L535.77,155.02 L536.29,153.86 L536.80,152.63 L537.31,151.32 L537.83,149.94 L538.34,148.50 L538.86,147.00 L539.37,145.46 L539.89,143.87 L540.40,142.25 L540.92,140.60 L541.43,138.92 L541.95,137.23 L542.46,135.52 L542.97,133.81 L543.49,132.09 L544.00,130.39 L544.52,128.69 L545.03,127.02 L545.55,125.37 L546.06,123.75 L546.58,122.16 L547.09,120.63 L547.61,119.14 L548.12,117.70 L548.64,116.33 L549.15,115.02 L549.66,113.79 L550.18,112.64 L550.69,111.58 L551.21,110.60 L551.72,109.73 L552.24,108.92 L552.75,108.15 L553.27,107.41 L553.78,106.70 L554.30,106.02 L554.81,105.38 L555.32,104.76 L555.84,104.17 L556.35,103.60 L556.87,103.07 L557.38,102.56 L557.90,102.07 L558.41,101.61 L558.93,101.17 L559.44,100.75 L559.96,100.36 L560.47,99.98 L560.99,99.63 L561.50,99.29 L562.01,98.97 L562.53,98.67 L563.04,98.38 L563.56,98.11 L564.07,97.86 L564.59,97.61 L565.10,97.38 L565.62,97.17 L566.13,96.96 L566.65,96.76 L567.16,96.57 L567.68,96.39 L568.19,96.22 L568.70,96.06 L569.22,95.90 L569.73,95.74 L570.25,95.59 L570.76,95.44 L571.28,95.30 L571.79,95.15 L572.31,95.01 L572.81,94.88 L573.31,94.77 L573.80,94.68 L574.27,94.62 L574.74,94.57 L575.20,94.54 L575.65,94.53 L576.09,94.54 L576.53,94.57 L576.97,94.61 L577.40,94.66 L577.83,94.73 L578.26,94.81 L578.69,94.90 L579.12,95.00 L579.55,95.11 L579.99,95.24 L580.42,95.36 L580.86,95.50 L581.31,95.64 L581.77,95.79 L582.23,95.94 L582.70,96.09 L583.17,96.25 L583.66,96.40 L584.16,96.56 L584.68,96.71 L585.20,96.87 L585.74,97.02 L586.30,97.17 L586.87,97.31 L587.46,97.45 L588.06,97.58 L588.69,97.71 L589.33,97.82 L590.00,97.93 L590.69,98.03 L591.40,98.11 L592.13,98.19 L592.89,98.25 L593.71,98.30 L594.58,98.35 L595.49,98.40 L596.46,98.45 L597.46,98.50 L598.50,98.54 L599.58,98.59 L600.69,98.63 L601.83,98.67 L602.99,98.70 L604.18,98.74 L605.39,98.77 L606.61,98.81 L607.85,98.84 L609.10,98.87 L610.35,98.90 L611.61,98.93 L612.87,98.95 L614.13,98.98 L615.39,99.00 L616.63,99.02 L617.86,99.05 L619.08,99.07 L620.28,99.09 L621.46,99.11 L622.62,99.13 L623.75,99.14 L624.85,99.16 L625.92,99.18 L626.95,99.20 L627.94,99.21 L628.88,99.23 L629.78,99.24 L630.64,99.26 L631.44,99.27 L632.18,99.28 L632.87,99.30 L633.50,99.31 L634.06,99.33" fill="none" stroke="#6fd08f" stroke-width="1.45" stroke-linejoin="round" stroke-linecap="round"/>
<circle cx="469.69" cy="62.23" r="1.57" fill="url(#ball)"/>
<circle cx="489.97" cy="64.39" r="1.85" fill="url(#ball)"/>
<circle cx="510.56" cy="117.48" r="1.85" fill="url(#ball)"/>
<circle cx="531.14" cy="160.85" r="1.85" fill="url(#ball)"/>
<circle cx="551.72" cy="109.73" r="1.85" fill="url(#ball)"/>
<circle cx="572.31" cy="95.01" r="1.85" fill="url(#ball)"/>
<circle cx="592.89" cy="98.25" r="1.85" fill="url(#ball)"/>
<circle cx="634.06" cy="99.33" r="1.85" fill="url(#ball)"/>
<path d="M453.96,72.58 L454.25,72.59 L454.55,72.58 L454.89,72.53 L455.25,72.47 L455.63,72.38 L456.03,72.27 L456.45,72.15 L456.89,72.01 L457.35,71.86 L457.83,71.70 L458.33,71.53 L458.84,71.36 L459.37,71.19 L459.91,71.01 L460.46,70.84 L461.03,70.68 L461.61,70.52 L462.19,70.38 L462.79,70.25 L463.39,70.13 L464.00,70.03 L464.61,69.96 L465.23,69.90 L465.85,69.87 L466.48,69.87 L467.11,69.90 L467.74,69.96 L468.36,70.06 L468.99,70.20 L469.62,70.38 L470.24,70.60 L470.85,70.87 L471.46,71.18 L472.07,71.55 L472.67,71.96 L473.25,72.44 L473.83,72.97 L474.40,73.56 L474.96,74.22 L475.51,74.94 L476.04,75.73 L476.58,76.60 L477.12,77.53 L477.66,78.54 L478.20,79.60 L478.74,80.73 L479.28,81.92 L479.81,83.16 L480.35,84.45 L480.89,85.79 L481.43,87.17 L481.97,88.60 L482.51,90.06 L483.05,91.57 L483.58,93.10 L484.12,94.66 L484.66,96.25 L485.20,97.87 L485.74,99.50 L486.28,101.15 L486.82,102.82 L487.35,104.49 L487.89,106.18 L488.43,107.87 L488.97,109.56 L489.51,111.25 L490.05,112.93 L490.59,114.61 L491.12,116.27 L491.66,117.92 L492.20,119.56 L492.74,121.17 L493.28,122.76 L493.82,124.33 L494.36,125.86 L494.89,127.37 L495.43,128.83 L495.97,130.26 L496.51,131.65 L497.05,132.99 L497.59,134.33 L498.13,135.72 L498.66,137.15 L499.20,138.62 L499.74,140.13 L500.28,141.66 L500.82,143.22 L501.36,144.80 L501.90,146.39 L502.43,148.00 L502.97,149.62 L503.51,151.24 L504.05,152.85 L504.59,154.47 L505.13,156.07 L505.67,157.66 L506.20,159.23 L506.74,160.78 L507.28,162.30 L507.82,163.79 L508.36,165.25 L508.90,166.66 L509.44,168.03 L509.97,169.35 L510.51,170.62 L511.05,171.84 L511.59,172.99 L512.13,174.07 L512.67,175.08 L513.21,176.02 L513.74,176.88 L514.28,177.66 L514.82,178.35 L515.36,178.95" fill="none" stroke="#4a8ee8" stroke-width="1.45" stroke-linejoin="round" stroke-linecap="round"/>
<path d="M520.74,178.77 L521.28,178.03 L521.82,177.18 L522.36,176.22 L522.90,175.14 L523.44,173.97 L523.98,172.70 L524.51,171.35 L525.05,169.92 L525.59,168.41 L526.13,166.83 L526.67,165.20 L527.21,163.51 L527.75,161.78 L528.28,160.00 L528.82,158.20 L529.36,156.36 L529.90,154.51 L530.44,152.64 L530.98,150.77 L531.52,148.90 L532.05,147.03 L532.59,145.18 L533.13,143.35 L533.67,141.54 L534.21,139.77 L534.75,138.04 L535.29,136.36 L535.82,134.73 L536.36,133.17 L536.90,131.67 L537.44,130.24 L537.98,128.90 L538.52,127.64 L539.06,126.48 L539.59,125.42 L540.13,124.46 L540.67,123.58 L541.21,122.74 L541.75,121.93 L542.29,121.16 L542.83,120.43 L543.36,119.72 L543.90,119.05 L544.44,118.41 L544.98,117.80 L545.52,117.22 L546.06,116.67 L546.60,116.14 L547.13,115.64 L547.67,115.17 L548.21,114.72 L548.75,114.29 L549.29,113.89 L549.83,113.51 L550.37,113.14 L550.90,112.80 L551.44,112.48 L551.98,112.17 L552.52,111.88 L553.06,111.60 L553.60,111.34 L554.14,111.10 L554.67,110.86 L555.21,110.64 L555.75,110.43 L556.29,110.23 L556.83,110.04 L557.37,109.85 L557.91,109.67 L558.44,109.50 L558.98,109.33 L559.52,109.17 L560.06,109.01 L560.60,108.85 L561.14,108.69 L561.68,108.54 L562.21,108.39 L562.73,108.27 L563.24,108.17 L563.73,108.09 L564.22,108.04 L564.70,108.00 L565.17,107.99 L565.64,107.99 L566.10,108.01 L566.56,108.04 L567.01,108.09 L567.46,108.16 L567.91,108.23 L568.36,108.32 L568.81,108.43 L569.26,108.54 L569.71,108.66 L570.17,108.79 L570.63,108.93 L571.10,109.07 L571.58,109.22 L572.06,109.37 L572.55,109.53 L573.05,109.69 L573.56,109.85 L574.09,110.02 L574.62,110.18 L575.17,110.34 L575.74,110.50 L576.32,110.65 L576.92,110.80 L577.53,110.95 L578.17,111.09 L578.82,111.23 L579.49,111.35 L580.19,111.47 L580.91,111.57 L581.65,111.67 L582.42,111.75 L583.22,111.82 L584.07,111.89 L584.98,111.95 L585.94,112.02 L586.95,112.08 L588.00,112.14 L589.09,112.21 L590.22,112.27 L591.38,112.33 L592.57,112.39 L593.79,112.45 L595.03,112.50 L596.30,112.56 L597.58,112.62 L598.88,112.67 L600.18,112.72 L601.50,112.78 L602.81,112.83 L604.13,112.88 L605.45,112.93 L606.76,112.98 L608.06,113.03 L609.36,113.07 L610.63,113.12 L611.89,113.16 L613.12,113.21 L614.33,113.25 L615.52,113.29 L616.67,113.33 L617.78,113.37 L618.86,113.40 L619.90,113.44 L620.89,113.47 L621.83,113.51 L622.72,113.54 L623.56,113.57 L624.34,113.60 L625.06,113.62 L625.72,113.65 L626.30,113.67" fill="none" stroke="#4a8ee8" stroke-width="1.45" stroke-linejoin="round" stroke-linecap="round"/>
<circle cx="454.26" cy="72.58" r="1.57" fill="url(#ball)"/>
<circle cx="475.51" cy="74.94" r="1.85" fill="url(#ball)"/>
<circle cx="497.05" cy="132.99" r="1.85" fill="url(#ball)"/>
<circle cx="518.59" cy="180.35" r="1.85" fill="url(#ball)"/>
<circle cx="540.13" cy="124.46" r="1.85" fill="url(#ball)"/>
<circle cx="561.68" cy="108.54" r="1.85" fill="url(#ball)"/>
<circle cx="583.22" cy="111.82" r="1.85" fill="url(#ball)"/>
<circle cx="626.30" cy="113.67" r="1.85" fill="url(#ball)"/>
<path d="M437.01,84.16 L437.31,84.18 L437.63,84.16 L437.98,84.12 L438.36,84.05 L438.76,83.96 L439.18,83.85 L439.62,83.72 L440.09,83.57 L440.57,83.42 L441.07,83.25 L441.59,83.07 L442.13,82.89 L442.68,82.71 L443.25,82.53 L443.83,82.35 L444.43,82.18 L445.03,82.02 L445.64,81.87 L446.27,81.73 L446.90,81.61 L447.54,81.51 L448.18,81.43 L448.83,81.38 L449.49,81.36 L450.14,81.37 L450.80,81.40 L451.46,81.48 L452.12,81.59 L452.78,81.75 L453.43,81.95 L454.08,82.20 L454.73,82.49 L455.37,82.84 L456.00,83.24 L456.63,83.70 L457.25,84.22 L457.86,84.81 L458.45,85.46 L459.04,86.17 L459.61,86.96 L460.17,87.83 L460.74,88.77 L461.30,89.79 L461.87,90.89 L462.43,92.05 L463.00,93.28 L463.56,94.57 L464.13,95.92 L464.69,97.32 L465.26,98.78 L465.82,100.29 L466.39,101.84 L466.95,103.43 L467.52,105.07 L468.08,106.74 L468.65,108.44 L469.21,110.17 L469.78,111.92 L470.34,113.70 L470.91,115.50 L471.47,117.31 L472.04,119.13 L472.60,120.96 L473.17,122.80 L473.73,124.64 L474.30,126.48 L474.86,128.31 L475.43,130.13 L475.99,131.94 L476.56,133.74 L477.12,135.52 L477.69,137.27 L478.25,139.01 L478.82,140.71 L479.38,142.38 L479.95,144.02 L480.51,145.61 L481.08,147.17 L481.64,148.68 L482.21,150.14 L482.77,151.58 L483.34,153.04 L483.90,154.51 L484.47,156.00 L485.03,157.50 L485.60,159.00 L486.16,160.51 L486.73,162.03 L487.29,163.55 L487.86,165.07 L488.42,166.59 L488.99,168.10 L489.55,169.62 L490.11,171.12 L490.68,172.62 L491.24,174.10 L491.81,175.58 L492.37,177.04 L492.94,178.48 L493.50,179.91 L494.07,181.31 L494.63,182.70 L495.20,184.06 L495.76,185.39 L496.33,186.70 L496.89,187.98 L497.46,189.23 L498.02,190.44 L498.59,191.63 L499.15,192.77 L499.72,193.87 L500.28,194.94 L500.85,195.96 L501.41,196.94 L501.98,197.87 L502.54,198.76 L503.11,199.59 L503.67,200.37" fill="none" stroke="#f07070" stroke-width="1.45" stroke-linejoin="round" stroke-linecap="round"/>
<path d="M528.53,199.52 L529.09,198.18 L529.66,196.72 L530.22,195.13 L530.79,193.44 L531.35,191.63 L531.92,189.74 L532.48,187.75 L533.05,185.68 L533.61,183.53 L534.18,181.32 L534.74,179.05 L535.31,176.73 L535.87,174.36 L536.44,171.95 L537.00,169.52 L537.57,167.07 L538.13,164.60 L538.70,162.12 L539.26,159.65 L539.83,157.19 L540.39,154.74 L540.96,152.31 L541.52,149.92 L542.09,147.57 L542.65,145.26 L543.22,143.01 L543.78,140.82 L544.35,138.70 L544.91,136.65 L545.48,134.69 L546.04,132.83 L546.61,131.06 L547.17,129.40 L547.74,127.85 L548.30,126.43 L548.86,125.14 L549.43,123.98 L549.99,122.97 L550.55,122.09 L551.10,121.30 L551.63,120.62 L552.15,120.02 L552.66,119.52 L553.17,119.10 L553.66,118.76 L554.15,118.50 L554.64,118.31 L555.11,118.19 L555.59,118.14 L556.06,118.15 L556.53,118.21 L557.00,118.33 L557.48,118.49 L557.95,118.70 L558.42,118.95 L558.90,119.24 L559.39,119.57 L559.88,119.92 L560.38,120.29 L560.88,120.69 L561.40,121.11 L561.93,121.54 L562.46,121.97 L563.01,122.42 L563.57,122.86 L564.15,123.30 L564.74,123.74 L565.35,124.16 L565.98,124.58 L566.63,124.97 L567.29,125.34 L567.98,125.68 L568.69,125.99 L569.42,126.27 L570.17,126.51 L570.95,126.71 L571.76,126.86 L572.59,126.96 L573.49,127.03 L574.44,127.11 L575.45,127.18 L576.51,127.25 L577.61,127.32 L578.75,127.39 L579.93,127.46 L581.15,127.52 L582.40,127.59 L583.68,127.65 L584.99,127.71 L586.31,127.77 L587.66,127.83 L589.01,127.89 L590.38,127.94 L591.76,128.00 L593.15,128.05 L594.53,128.10 L595.91,128.15 L597.29,128.20 L598.65,128.25 L600.01,128.30 L601.35,128.34 L602.66,128.39 L603.96,128.43 L605.23,128.47 L606.47,128.51 L607.68,128.55 L608.85,128.59 L609.98,128.63 L611.06,128.66 L612.10,128.70 L613.09,128.73 L614.03,128.76 L614.91,128.79 L615.73,128.82 L616.48,128.85 L617.17,128.87 L617.78,128.90" fill="none" stroke="#f07070" stroke-width="1.45" stroke-linejoin="round" stroke-linecap="round"/>
<circle cx="437.31" cy="84.16" r="1.57" fill="url(#ball)"/>
<circle cx="459.61" cy="86.96" r="1.85" fill="url(#ball)"/>
<circle cx="482.21" cy="150.14" r="1.85" fill="url(#ball)"/>
<circle cx="504.80" cy="201.78" r="1.85" fill="url(#ball)"/>
<circle cx="527.40" cy="201.78" r="1.85" fill="url(#ball)"/>
<circle cx="549.99" cy="122.97" r="1.85" fill="url(#ball)"/>
<circle cx="572.59" cy="126.96" r="1.85" fill="url(#ball)"/>
<circle cx="617.78" cy="128.90" r="1.85" fill="url(#ball)"/>
<path d="M418.30,95.24 L418.62,95.26 L418.96,95.24 L419.32,95.19 L419.72,95.12 L420.14,95.01 L420.58,94.89 L421.05,94.74 L421.53,94.57 L422.04,94.39 L422.57,94.20 L423.12,94.01 L423.69,93.80 L424.27,93.60 L424.86,93.39 L425.47,93.19 L426.10,93.00 L426.73,92.81 L427.38,92.64 L428.03,92.49 L428.70,92.35 L429.37,92.24 L430.05,92.15 L430.73,92.08 L431.42,92.05 L432.11,92.06 L432.80,92.09 L433.49,92.17 L434.19,92.30 L434.88,92.46 L435.57,92.68 L436.25,92.95 L436.93,93.27 L437.60,93.65 L438.27,94.09 L438.93,94.60 L439.58,95.17 L440.22,95.82 L440.85,96.53 L441.46,97.32 L442.06,98.19 L442.66,99.15 L443.25,100.19 L443.84,101.32 L444.44,102.52 L445.03,103.81 L445.63,105.16 L446.22,106.59 L446.81,108.08 L447.41,109.63 L448.00,111.24 L448.60,112.91 L449.19,114.62 L449.78,116.39 L450.38,118.19 L450.97,120.03 L451.57,121.91 L452.16,123.83 L452.75,125.77 L453.35,127.73 L453.94,129.72 L454.54,131.72 L455.13,133.73 L455.72,135.76 L456.32,137.79 L456.91,139.82 L457.51,141.86 L458.10,143.88 L458.69,145.90 L459.29,147.90 L459.88,149.89 L460.48,151.86 L461.07,153.80 L461.66,155.72 L462.26,157.60 L462.85,159.45 L463.45,161.27 L464.04,163.03 L464.63,164.76 L465.23,166.43 L465.82,168.05 L466.42,169.65 L467.01,171.27 L467.60,172.90 L468.20,174.55 L468.79,176.21 L469.39,177.88 L469.98,179.56 L470.57,181.24 L471.17,182.93 L471.76,184.61 L472.36,186.30 L472.95,187.99 L473.54,189.67 L474.14,191.34 L474.73,193.00 L475.33,194.65 L475.92,196.29 L476.51,197.91 L477.11,199.52 L477.70,201.10 L478.30,202.67 L478.89,204.21 L479.48,205.72 L480.08,207.21 L480.67,208.66 L481.27,210.08 L481.86,211.47 L482.45,212.82 L483.05,214.14 L483.64,215.41 L484.24,216.64 L484.83,217.82 L485.42,218.96 L486.02,220.05 L486.61,221.09 L487.21,222.07 L487.80,223.00 L488.39,223.87" fill="none" stroke="#8a8a8a" stroke-width="1.45" stroke-linejoin="round" stroke-linecap="round"/>
<path d="M514.53,222.93 L515.12,221.45 L515.72,219.84 L516.31,218.09 L516.90,216.21 L517.50,214.22 L518.09,212.13 L518.69,209.93 L519.28,207.64 L519.87,205.28 L520.47,202.83 L521.06,200.33 L521.66,197.76 L522.25,195.15 L522.84,192.49 L523.44,189.80 L524.03,187.09 L524.63,184.37 L525.22,181.63 L525.81,178.90 L526.41,176.18 L527.00,173.47 L527.60,170.80 L528.19,168.15 L528.78,165.55 L529.38,163.00 L529.97,160.51 L530.57,158.09 L531.16,155.75 L531.75,153.49 L532.35,151.32 L532.94,149.25 L533.54,147.30 L534.13,145.46 L534.72,143.75 L535.32,142.17 L535.91,140.74 L536.51,139.46 L537.10,138.34 L537.69,137.35 L538.26,136.48 L538.82,135.71 L539.37,135.05 L539.91,134.48 L540.44,134.01 L540.96,133.62 L541.47,133.32 L541.98,133.10 L542.48,132.96 L542.98,132.88 L543.48,132.88 L543.98,132.93 L544.47,133.05 L544.97,133.21 L545.46,133.43 L545.96,133.70 L546.47,134.00 L546.98,134.34 L547.50,134.71 L548.02,135.12 L548.55,135.54 L549.09,135.98 L549.65,136.44 L550.21,136.91 L550.79,137.39 L551.38,137.87 L551.99,138.35 L552.61,138.82 L553.25,139.27 L553.91,139.72 L554.59,140.14 L555.29,140.54 L556.01,140.91 L556.75,141.25 L557.52,141.55 L558.32,141.81 L559.14,142.03 L559.98,142.19 L560.86,142.30 L561.80,142.39 L562.81,142.47 L563.87,142.56 L564.98,142.64 L566.13,142.72 L567.34,142.81 L568.58,142.89 L569.86,142.97 L571.18,143.05 L572.52,143.13 L573.89,143.21 L575.29,143.29 L576.70,143.37 L578.13,143.45 L579.57,143.53 L581.02,143.60 L582.47,143.68 L583.93,143.75 L585.38,143.82 L586.83,143.89 L588.26,143.96 L589.69,144.03 L591.09,144.10 L592.48,144.16 L593.84,144.23 L595.18,144.29 L596.48,144.35 L597.75,144.41 L598.98,144.46 L600.17,144.52 L601.31,144.57 L602.41,144.62 L603.45,144.67 L604.43,144.72 L605.36,144.76 L606.22,144.80 L607.01,144.84 L607.73,144.88 L608.38,144.91" fill="none" stroke="#8a8a8a" stroke-width="1.45" stroke-linejoin="round" stroke-linecap="round"/>
<circle cx="418.30" cy="95.24" r="1.85" fill="url(#ball)"/>
<circle cx="442.06" cy="98.19" r="1.85" fill="url(#ball)"/>
<circle cx="465.82" cy="168.05" r="1.85" fill="url(#ball)"/>
<circle cx="489.58" cy="225.43" r="1.85" fill="url(#ball)"/>
<circle cx="513.34" cy="225.43" r="1.85" fill="url(#ball)"/>
<circle cx="537.10" cy="138.34" r="1.85" fill="url(#ball)"/>
<circle cx="560.86" cy="142.30" r="1.85" fill="url(#ball)"/>
<circle cx="608.38" cy="144.91" r="1.85" fill="url(#ball)"/>
<line x1="408.20" y1="238.20" x2="408.20" y2="86.85" stroke="#8a8a8a" stroke-width="1.8" />
<line x1="408.20" y1="238.20" x2="603.30" y2="238.20" stroke="#484848" stroke-width="1.5" />
<line x1="603.30" y1="238.20" x2="650.70" y2="119.00" stroke="#3a3a3a" stroke-width="1.3" />
<line x1="404.20" y1="238.20" x2="408.20" y2="238.20" stroke="#444444" stroke-width="1.2" />
<text x="401.90" y="242.00" text-anchor="end" class="ser sl" font-size="8.2">0</text>
<line x1="404.20" y1="214.92" x2="408.20" y2="214.92" stroke="#444444" stroke-width="1.2" />
<text x="401.90" y="218.72" text-anchor="end" class="ser sl" font-size="8.2">2</text>
<line x1="404.20" y1="191.63" x2="408.20" y2="191.63" stroke="#444444" stroke-width="1.2" />
<text x="401.90" y="195.43" text-anchor="end" class="ser sl" font-size="8.2">4</text>
<line x1="404.20" y1="168.35" x2="408.20" y2="168.35" stroke="#444444" stroke-width="1.2" />
<text x="401.90" y="172.15" text-anchor="end" class="ser sl" font-size="8.2">6</text>
<line x1="404.20" y1="145.06" x2="408.20" y2="145.06" stroke="#444444" stroke-width="1.2" />
<text x="401.90" y="148.86" text-anchor="end" class="ser sl" font-size="8.2">8</text>
<line x1="404.20" y1="121.78" x2="408.20" y2="121.78" stroke="#444444" stroke-width="1.2" />
<text x="401.90" y="125.58" text-anchor="end" class="ser sl" font-size="8.2">10</text>
<line x1="404.20" y1="98.49" x2="408.20" y2="98.49" stroke="#444444" stroke-width="1.2" />
<text x="401.90" y="102.29" text-anchor="end" class="ser sl" font-size="8.2">12</text>
<line x1="405.70" y1="226.56" x2="408.20" y2="226.56" stroke="#444444" stroke-width="1.0" />
<line x1="405.70" y1="203.27" x2="408.20" y2="203.27" stroke="#444444" stroke-width="1.0" />
<line x1="405.70" y1="179.99" x2="408.20" y2="179.99" stroke="#444444" stroke-width="1.0" />
<line x1="405.70" y1="156.70" x2="408.20" y2="156.70" stroke="#444444" stroke-width="1.0" />
<line x1="405.70" y1="133.42" x2="408.20" y2="133.42" stroke="#444444" stroke-width="1.0" />
<line x1="405.70" y1="110.13" x2="408.20" y2="110.13" stroke="#444444" stroke-width="1.0" />
<line x1="405.70" y1="86.85" x2="408.20" y2="86.85" stroke="#444444" stroke-width="1.0" />
<line x1="408.20" y1="238.20" x2="408.20" y2="242.20" stroke="#444444" stroke-width="1.2" />
<text x="408.20" y="253.20" text-anchor="middle" class="ser sl" font-size="8">0. 1</text>
<line x1="456.97" y1="238.20" x2="456.97" y2="242.20" stroke="#444444" stroke-width="1.2" />
<text x="456.97" y="253.20" text-anchor="middle" class="ser sl" font-size="8">0. 2</text>
<line x1="505.75" y1="238.20" x2="505.75" y2="242.20" stroke="#444444" stroke-width="1.2" />
<text x="505.75" y="253.20" text-anchor="middle" class="ser sl" font-size="8">0. 3</text>
<line x1="554.52" y1="238.20" x2="554.52" y2="242.20" stroke="#444444" stroke-width="1.2" />
<text x="554.52" y="253.20" text-anchor="middle" class="ser sl" font-size="8">0. 4</text>
<line x1="603.30" y1="238.20" x2="603.30" y2="242.20" stroke="#444444" stroke-width="1.2" />
<text x="603.30" y="253.20" text-anchor="middle" class="ser sl" font-size="8">0. 5</text>
<line x1="432.59" y1="238.20" x2="432.59" y2="240.70" stroke="#444444" stroke-width="1.0" />
<line x1="481.36" y1="238.20" x2="481.36" y2="240.70" stroke="#444444" stroke-width="1.0" />
<line x1="530.14" y1="238.20" x2="530.14" y2="240.70" stroke="#444444" stroke-width="1.0" />
<line x1="578.91" y1="238.20" x2="578.91" y2="240.70" stroke="#444444" stroke-width="1.0" />
<line x1="608.38" y1="225.43" x2="612.38" y2="225.43" stroke="#444444" stroke-width="1.1" />
<text x="614.52" y="229.03" class="ser sl" font-size="7.99">1. 0</text>
<line x1="626.30" y1="180.35" x2="630.30" y2="180.35" stroke="#444444" stroke-width="1.1" />
<text x="631.87" y="183.62" class="ser sl" font-size="7.24">1. 2</text>
<line x1="641.14" y1="143.03" x2="645.14" y2="143.03" stroke="#444444" stroke-width="1.1" />
<text x="646.24" y="146.02" class="ser sl" font-size="6.63">1. 4</text>
<line x1="617.78" y1="201.78" x2="620.28" y2="201.78" stroke="#444444" stroke-width="0.9" />
<line x1="634.06" y1="160.85" x2="636.56" y2="160.85" stroke="#444444" stroke-width="0.9" />
<line x1="647.65" y1="126.68" x2="650.15" y2="126.68" stroke="#444444" stroke-width="0.9" />
<polygon points="35.00,544.50 35.00,384.20 131.30,296.70 131.30,418.20" fill="#e1f6f5" stroke="none" stroke-width="0"/>
<polygon points="131.30,418.20 282.50,418.20 282.50,296.70 131.30,296.70" fill="#ffffe0" stroke="none" stroke-width="0"/>
<polygon points="35.00,544.50 234.20,544.50 282.50,418.20 131.30,418.20" fill="#f0f0f0" stroke="none" stroke-width="0"/>
<line x1="35.00" y1="519.84" x2="131.30" y2="399.51" stroke="#a8b1af" stroke-width="0.7" />
<line x1="131.30" y1="399.51" x2="282.50" y2="399.51" stroke="#cacab2" stroke-width="1.05" />
<line x1="35.00" y1="495.18" x2="131.30" y2="380.82" stroke="#a8b1af" stroke-width="0.7" />
<line x1="131.30" y1="380.82" x2="282.50" y2="380.82" stroke="#cacab2" stroke-width="1.05" />
<line x1="35.00" y1="470.52" x2="131.30" y2="362.12" stroke="#a8b1af" stroke-width="0.7" />
<line x1="131.30" y1="362.12" x2="282.50" y2="362.12" stroke="#cacab2" stroke-width="1.05" />
<line x1="35.00" y1="445.85" x2="131.30" y2="343.43" stroke="#a8b1af" stroke-width="0.7" />
<line x1="131.30" y1="343.43" x2="282.50" y2="343.43" stroke="#cacab2" stroke-width="1.05" />
<line x1="35.00" y1="421.19" x2="131.30" y2="324.74" stroke="#a8b1af" stroke-width="0.7" />
<line x1="131.30" y1="324.74" x2="282.50" y2="324.74" stroke="#cacab2" stroke-width="1.05" />
<line x1="35.00" y1="396.53" x2="131.30" y2="306.05" stroke="#a8b1af" stroke-width="0.7" />
<line x1="131.30" y1="306.05" x2="282.50" y2="306.05" stroke="#cacab2" stroke-width="1.05" />
<line x1="84.80" y1="544.50" x2="169.10" y2="418.20" stroke="#b8b8b8" stroke-width="0.6" />
<line x1="169.10" y1="418.20" x2="169.10" y2="296.70" stroke="#cacab2" stroke-width="1.05" />
<line x1="134.60" y1="544.50" x2="206.90" y2="418.20" stroke="#b8b8b8" stroke-width="0.6" />
<line x1="206.90" y1="418.20" x2="206.90" y2="296.70" stroke="#cacab2" stroke-width="1.05" />
<line x1="184.40" y1="544.50" x2="244.70" y2="418.20" stroke="#b8b8b8" stroke-width="0.6" />
<line x1="244.70" y1="418.20" x2="244.70" y2="296.70" stroke="#cacab2" stroke-width="1.05" />
<line x1="45.32" y1="530.97" x2="45.32" y2="374.82" stroke="#cddcda" stroke-width="0.8" />
<line x1="45.32" y1="530.97" x2="239.38" y2="530.97" stroke="#dcdcdc" stroke-width="1.0" />
<line x1="64.43" y1="505.91" x2="64.43" y2="357.46" stroke="#cddcda" stroke-width="0.8" />
<line x1="64.43" y1="505.91" x2="248.96" y2="505.91" stroke="#dcdcdc" stroke-width="1.0" />
<line x1="81.73" y1="483.21" x2="81.73" y2="341.74" stroke="#cddcda" stroke-width="0.8" />
<line x1="81.73" y1="483.21" x2="257.64" y2="483.21" stroke="#dcdcdc" stroke-width="1.0" />
<line x1="97.49" y1="462.55" x2="97.49" y2="327.42" stroke="#cddcda" stroke-width="0.8" />
<line x1="97.49" y1="462.55" x2="265.54" y2="462.55" stroke="#dcdcdc" stroke-width="1.0" />
<line x1="111.88" y1="443.66" x2="111.88" y2="314.34" stroke="#cddcda" stroke-width="0.8" />
<line x1="111.88" y1="443.66" x2="272.76" y2="443.66" stroke="#dcdcdc" stroke-width="1.0" />
<line x1="125.10" y1="426.34" x2="125.10" y2="302.34" stroke="#cddcda" stroke-width="0.8" />
<line x1="125.10" y1="426.34" x2="279.39" y2="426.34" stroke="#dcdcdc" stroke-width="1.0" />
<line x1="35.00" y1="384.20" x2="131.30" y2="296.70" stroke="#9aa39e" stroke-width="0.9" />
<line x1="35.00" y1="544.50" x2="131.30" y2="418.20" stroke="#9aa39e" stroke-width="0.9" />
<polygon points="131.30,418.20 282.50,418.20 282.50,296.70 131.30,296.70" fill="none" stroke="#b4b8a8" stroke-width="1.0"/>
<path d="M125.10,379.60 L125.35,379.60 L125.62,379.61 L125.92,379.63 L126.24,379.66 L126.58,379.70 L126.94,379.75 L127.32,379.81 L127.72,379.88 L128.13,379.95 L128.56,380.02 L129.01,380.10 L129.46,380.18 L129.94,380.26 L130.42,380.34 L130.91,380.41 L131.42,380.49 L131.94,380.56 L132.46,380.63 L132.99,380.69 L133.53,380.75 L134.08,380.80 L134.63,380.84 L135.18,380.87 L135.74,380.89 L136.30,380.90 L136.86,380.89 L137.43,380.87 L137.99,380.84 L138.55,380.79 L139.11,380.72 L139.66,380.63 L140.22,380.52 L140.76,380.40 L141.30,380.25 L141.84,380.07 L142.37,379.88 L142.89,379.66 L143.39,379.41 L143.89,379.14 L144.38,378.84 L144.86,378.50 L145.35,378.11 L145.83,377.68 L146.31,377.22 L146.79,376.71 L147.27,376.17 L147.76,375.60 L148.24,374.99 L148.72,374.36 L149.20,373.71 L149.69,373.03 L150.17,372.32 L150.65,371.61 L151.13,370.87 L151.61,370.12 L152.10,369.36 L152.58,368.60 L153.06,367.83 L153.54,367.05 L154.02,366.27 L154.51,365.50 L154.99,364.72 L155.47,363.96 L155.95,363.20 L156.44,362.46 L156.92,361.73 L157.40,361.01 L157.88,360.31 L158.36,359.64 L158.85,358.99 L159.33,358.36 L159.81,357.76 L160.29,357.20 L160.78,356.66 L161.26,356.17 L161.74,355.71 L162.22,355.29 L162.70,354.91 L163.19,354.58 L163.67,354.30 L164.15,354.06 L164.63,353.86 L165.11,353.69 L165.60,353.55 L166.08,353.43 L166.56,353.35 L167.04,353.30 L167.53,353.27 L168.01,353.27 L168.49,353.28 L168.97,353.33 L169.45,353.39 L169.94,353.47 L170.42,353.57 L170.90,353.69 L171.38,353.82 L171.87,353.97 L172.35,354.13 L172.83,354.30 L173.31,354.49 L173.79,354.68 L174.28,354.88 L174.76,355.08 L175.24,355.30 L175.72,355.51 L176.20,355.73 L176.69,355.95 L177.17,356.17 L177.65,356.38 L178.13,356.60 L178.62,356.81 L179.10,357.02 L179.58,357.21 L180.06,357.40 L180.54,357.59 L181.03,357.76 L181.51,357.92 L181.99,358.06 L182.47,358.19 L182.95,358.31 L183.44,358.42 L183.92,358.52 L184.40,358.63 L184.88,358.74 L185.37,358.85 L185.85,358.96 L186.33,359.07 L186.81,359.18 L187.29,359.29 L187.78,359.40 L188.26,359.51 L188.74,359.62 L189.22,359.74 L189.71,359.85 L190.19,359.96 L190.67,360.07 L191.15,360.19 L191.63,360.30 L192.12,360.42 L192.60,360.53 L193.08,360.64 L193.56,360.76 L194.04,360.87 L194.53,360.99 L195.01,361.11 L195.49,361.22 L195.97,361.34 L196.46,361.46 L196.94,361.57 L197.42,361.69 L197.90,361.81 L198.38,361.93 L198.87,362.05 L199.35,362.17 L199.83,362.29 L200.31,362.41 L200.80,362.53 L201.28,362.65 L201.76,362.77 L202.24,362.89 L202.72,363.01 L203.21,363.14 L203.69,363.27 L204.17,363.40 L204.65,363.54 L205.13,363.68 L205.62,363.83 L206.10,363.97 L206.58,364.12 L207.06,364.27 L207.55,364.42 L208.03,364.57 L208.51,364.72 L208.99,364.88 L209.47,365.03 L209.96,365.18 L210.44,365.34 L210.92,365.49 L211.40,365.64 L211.88,365.79 L212.37,365.94 L212.85,366.08 L213.33,366.22 L213.81,366.36 L214.30,366.50 L214.78,366.64 L215.26,366.77 L215.74,366.89 L216.22,367.02 L216.71,367.13 L217.19,367.25 L217.67,367.36 L218.15,367.46 L218.64,367.56 L219.12,367.65 L219.60,367.73 L220.08,367.81 L220.56,367.88 L221.05,367.94 L221.53,368.00 L222.00,368.05 L222.47,368.09 L222.92,368.12 L223.37,368.15 L223.81,368.17 L224.24,368.19 L224.66,368.20 L225.08,368.20 L225.49,368.20 L225.90,368.19 L226.30,368.18 L226.71,368.16 L227.11,368.14 L227.51,368.12 L227.91,368.09 L228.32,368.06 L228.72,368.02 L229.13,367.99 L229.55,367.95 L229.97,367.91 L230.39,367.86 L230.82,367.82 L231.26,367.77 L231.71,367.72 L232.17,367.68 L232.64,367.63 L233.12,367.58 L233.61,367.53 L234.12,367.49 L234.64,367.44 L235.17,367.39 L235.72,367.35 L236.29,367.31 L236.88,367.27 L237.48,367.23 L238.10,367.19 L238.75,367.16 L239.42,367.13 L240.10,367.11 L240.81,367.08 L241.58,367.06 L242.40,367.04 L243.26,367.02 L244.16,367.00 L245.10,366.98 L246.07,366.96 L247.08,366.94 L248.12,366.92 L249.19,366.90 L250.28,366.88 L251.39,366.86 L252.53,366.83 L253.67,366.81 L254.83,366.79 L256.00,366.77 L257.18,366.75 L258.36,366.73 L259.54,366.71 L260.72,366.69 L261.89,366.67 L263.06,366.66 L264.22,366.64 L265.36,366.62 L266.48,366.60 L267.59,366.58 L268.67,366.57 L269.73,366.55 L270.76,366.54 L271.76,366.52 L272.72,366.51 L273.65,366.49 L274.54,366.48 L275.38,366.46 L276.18,366.45 L276.93,366.44 L277.63,366.43 L278.28,366.42 L278.86,366.41 L279.39,366.40" fill="none" stroke="#ffcc55" stroke-width="1.55" stroke-linejoin="round" stroke-linecap="round"/>
<circle cx="125.40" cy="379.60" r="1.61" fill="url(#ball)"/>
<circle cx="144.38" cy="378.84" r="1.90" fill="url(#ball)"/>
<circle cx="163.67" cy="354.30" r="1.90" fill="url(#ball)"/>
<circle cx="182.95" cy="358.31" r="1.90" fill="url(#ball)"/>
<circle cx="202.24" cy="362.89" r="1.90" fill="url(#ball)"/>
<circle cx="221.53" cy="368.00" r="1.90" fill="url(#ball)"/>
<circle cx="240.81" cy="367.08" r="1.90" fill="url(#ball)"/>
<circle cx="279.39" cy="366.40" r="1.90" fill="url(#ball)"/>
<path d="M111.88,395.56 L112.15,395.56 L112.44,395.57 L112.75,395.59 L113.08,395.63 L113.44,395.67 L113.81,395.73 L114.21,395.79 L114.62,395.86 L115.05,395.93 L115.50,396.01 L115.96,396.09 L116.44,396.18 L116.93,396.26 L117.44,396.35 L117.95,396.43 L118.48,396.52 L119.02,396.59 L119.57,396.67 L120.12,396.74 L120.68,396.80 L121.25,396.85 L121.83,396.90 L122.40,396.93 L122.99,396.96 L123.57,396.97 L124.16,396.97 L124.74,396.96 L125.33,396.93 L125.91,396.88 L126.50,396.81 L127.08,396.73 L127.65,396.63 L128.22,396.50 L128.79,396.36 L129.34,396.19 L129.89,396.00 L130.43,395.78 L130.96,395.53 L131.49,395.26 L131.99,394.96 L132.50,394.63 L133.00,394.27 L133.50,393.88 L134.01,393.47 L134.51,393.02 L135.01,392.56 L135.51,392.07 L136.02,391.56 L136.52,391.03 L137.02,390.48 L137.52,389.90 L138.03,389.32 L138.53,388.71 L139.03,388.09 L139.54,387.45 L140.04,386.81 L140.54,386.15 L141.04,385.48 L141.55,384.79 L142.05,384.11 L142.55,383.41 L143.05,382.71 L143.56,382.00 L144.06,381.29 L144.56,380.57 L145.07,379.85 L145.57,379.14 L146.07,378.42 L146.57,377.71 L147.08,376.99 L147.58,376.29 L148.08,375.58 L148.58,374.89 L149.09,374.20 L149.59,373.52 L150.09,372.85 L150.60,372.19 L151.10,371.54 L151.60,370.91 L152.10,370.29 L152.61,369.66 L153.11,369.00 L153.61,368.31 L154.12,367.59 L154.62,366.85 L155.12,366.09 L155.62,365.31 L156.13,364.51 L156.63,363.70 L157.13,362.88 L157.63,362.05 L158.14,361.22 L158.64,360.38 L159.14,359.54 L159.65,358.70 L160.15,357.87 L160.65,357.04 L161.15,356.23 L161.66,355.42 L162.16,354.64 L162.66,353.86 L163.16,353.11 L163.67,352.38 L164.17,351.68 L164.67,351.01 L165.18,350.36 L165.68,349.75 L166.18,349.17 L166.68,348.63 L167.19,348.14 L167.69,347.68 L168.19,347.27 L168.69,346.92 L169.20,346.61 L169.70,346.35 L170.20,346.15 L170.71,346.01 L171.21,345.94 L171.71,345.92 L172.21,345.98 L172.72,346.10 L173.22,346.32 L173.72,346.60 L174.22,346.97 L174.73,347.40 L175.23,347.90 L175.73,348.46 L176.24,349.09 L176.74,349.76 L177.24,350.49 L177.74,351.27 L178.25,352.09 L178.75,352.95 L179.25,353.84 L179.75,354.77 L180.26,355.72 L180.76,356.71 L181.26,357.71 L181.77,358.72 L182.27,359.76 L182.77,360.80 L183.27,361.84 L183.78,362.89 L184.28,363.94 L184.78,364.97 L185.28,366.00 L185.79,367.02 L186.29,368.02 L186.79,369.00 L187.30,369.95 L187.80,370.87 L188.30,371.76 L188.80,372.62 L189.31,373.43 L189.81,374.20 L190.31,374.92 L190.82,375.59 L191.32,376.21 L191.82,376.76 L192.32,377.25 L192.83,377.70 L193.33,378.11 L193.83,378.50 L194.33,378.87 L194.84,379.21 L195.34,379.53 L195.84,379.82 L196.35,380.09 L196.85,380.35 L197.35,380.58 L197.85,380.79 L198.36,380.98 L198.86,381.16 L199.36,381.32 L199.86,381.47 L200.37,381.60 L200.87,381.71 L201.37,381.82 L201.88,381.91 L202.38,381.99 L202.88,382.06 L203.38,382.12 L203.89,382.17 L204.39,382.22 L204.89,382.25 L205.39,382.29 L205.90,382.32 L206.40,382.34 L206.90,382.36 L207.41,382.38 L207.91,382.40 L208.41,382.42 L208.91,382.44 L209.42,382.46 L209.92,382.48 L210.42,382.51 L210.92,382.54 L211.43,382.57 L211.93,382.61 L212.43,382.66 L212.93,382.71 L213.41,382.75 L213.89,382.78 L214.35,382.81 L214.81,382.82 L215.26,382.83 L215.70,382.84 L216.13,382.83 L216.56,382.83 L216.99,382.81 L217.41,382.79 L217.83,382.77 L218.25,382.74 L218.67,382.70 L219.09,382.66 L219.51,382.62 L219.94,382.58 L220.36,382.53 L220.79,382.48 L221.23,382.43 L221.67,382.38 L222.12,382.32 L222.58,382.26 L223.05,382.21 L223.53,382.15 L224.02,382.09 L224.52,382.03 L225.03,381.98 L225.56,381.92 L226.10,381.87 L226.66,381.81 L227.23,381.76 L227.83,381.71 L228.44,381.67 L229.07,381.63 L229.72,381.59 L230.39,381.55 L231.08,381.52 L231.80,381.49 L232.54,381.47 L233.34,381.45 L234.19,381.43 L235.09,381.41 L236.03,381.39 L237.01,381.38 L238.03,381.36 L239.08,381.34 L240.16,381.33 L241.27,381.32 L242.41,381.30 L243.57,381.29 L244.75,381.28 L245.95,381.26 L247.16,381.25 L248.38,381.24 L249.60,381.23 L250.83,381.22 L252.07,381.21 L253.30,381.20 L254.52,381.19 L255.74,381.18 L256.94,381.17 L258.13,381.17 L259.31,381.16 L260.46,381.15 L261.59,381.15 L262.69,381.14 L263.77,381.13 L264.81,381.13 L265.81,381.12 L266.78,381.11 L267.71,381.11 L268.59,381.10 L269.42,381.10 L270.20,381.09 L270.93,381.09 L271.60,381.08 L272.21,381.08 L272.76,381.07" fill="none" stroke="#c8a8ee" stroke-width="1.55" stroke-linejoin="round" stroke-linecap="round"/>
<circle cx="112.18" cy="395.56" r="1.61" fill="url(#ball)"/>
<circle cx="131.99" cy="394.96" r="1.90" fill="url(#ball)"/>
<circle cx="152.10" cy="370.29" r="1.90" fill="url(#ball)"/>
<circle cx="172.21" cy="345.98" r="1.90" fill="url(#ball)"/>
<circle cx="192.32" cy="377.25" r="1.90" fill="url(#ball)"/>
<circle cx="212.43" cy="382.66" r="1.90" fill="url(#ball)"/>
<circle cx="232.54" cy="381.47" r="1.90" fill="url(#ball)"/>
<circle cx="272.76" cy="381.07" r="1.90" fill="url(#ball)"/>
<path d="M97.49,412.99 L97.76,412.98 L98.06,412.99 L98.39,413.00 L98.74,413.03 L99.11,413.06 L99.50,413.10 L99.91,413.15 L100.34,413.20 L100.79,413.25 L101.26,413.32 L101.75,413.38 L102.24,413.44 L102.76,413.51 L103.29,413.57 L103.83,413.64 L104.38,413.70 L104.94,413.76 L105.51,413.81 L106.09,413.86 L106.68,413.90 L107.27,413.94 L107.87,413.97 L108.47,413.98 L109.08,413.99 L109.69,413.99 L110.30,413.98 L110.92,413.95 L111.53,413.91 L112.14,413.85 L112.75,413.78 L113.35,413.69 L113.96,413.59 L114.55,413.46 L115.14,413.32 L115.72,413.16 L116.30,412.97 L116.86,412.76 L117.42,412.53 L117.96,412.27 L118.49,411.99 L119.02,411.69 L119.54,411.37 L120.07,411.04 L120.59,410.69 L121.12,410.33 L121.64,409.95 L122.17,409.57 L122.69,409.16 L123.22,408.74 L123.75,408.31 L124.27,407.87 L124.80,407.41 L125.32,406.93 L125.85,406.45 L126.37,405.95 L126.90,405.43 L127.42,404.91 L127.95,404.37 L128.47,403.81 L129.00,403.25 L129.52,402.67 L130.05,402.08 L130.57,401.47 L131.10,400.86 L131.62,400.23 L132.15,399.59 L132.67,398.93 L133.20,398.27 L133.72,397.59 L134.25,396.90 L134.77,396.20 L135.30,395.49 L135.82,394.76 L136.35,394.03 L136.87,393.28 L137.40,392.52 L137.92,391.75 L138.45,390.97 L138.98,390.18 L139.50,389.37 L140.03,388.52 L140.55,387.60 L141.08,386.61 L141.60,385.56 L142.13,384.44 L142.65,383.28 L143.18,382.06 L143.70,380.80 L144.23,379.50 L144.75,378.17 L145.28,376.80 L145.80,375.42 L146.33,374.01 L146.85,372.59 L147.38,371.17 L147.90,369.73 L148.43,368.30 L148.95,366.88 L149.48,365.47 L150.00,364.07 L150.53,362.70 L151.05,361.35 L151.58,360.03 L152.10,358.75 L152.63,357.51 L153.15,356.31 L153.68,355.17 L154.20,354.09 L154.73,353.06 L155.26,352.11 L155.78,351.22 L156.31,350.41 L156.83,349.68 L157.36,349.04 L157.88,348.49 L158.41,348.04 L158.93,347.69 L159.46,347.45 L159.98,347.31 L160.51,347.30 L161.03,347.41 L161.56,347.65 L162.08,348.01 L162.61,348.48 L163.13,349.07 L163.66,349.77 L164.18,350.56 L164.71,351.44 L165.23,352.41 L165.76,353.46 L166.28,354.59 L166.81,355.78 L167.33,357.04 L167.86,358.35 L168.38,359.72 L168.91,361.13 L169.43,362.58 L169.96,364.06 L170.49,365.57 L171.01,367.10 L171.54,368.64 L172.06,370.20 L172.59,371.75 L173.11,373.31 L173.64,374.85 L174.16,376.38 L174.69,377.89 L175.21,379.37 L175.74,380.82 L176.26,382.23 L176.79,383.60 L177.31,384.92 L177.84,386.18 L178.36,387.37 L178.89,388.50 L179.41,389.56 L179.94,390.53 L180.46,391.42 L180.99,392.21 L181.51,392.91 L182.04,393.53 L182.56,394.11 L183.09,394.65 L183.61,395.14 L184.14,395.60 L184.66,396.02 L185.19,396.41 L185.72,396.76 L186.24,397.08 L186.77,397.36 L187.29,397.62 L187.82,397.85 L188.34,398.05 L188.87,398.23 L189.39,398.38 L189.92,398.51 L190.44,398.62 L190.97,398.71 L191.49,398.79 L192.02,398.84 L192.54,398.89 L193.07,398.91 L193.59,398.93 L194.12,398.94 L194.64,398.94 L195.17,398.93 L195.69,398.91 L196.22,398.90 L196.74,398.87 L197.27,398.85 L197.79,398.83 L198.32,398.81 L198.84,398.79 L199.37,398.78 L199.89,398.77 L200.42,398.78 L200.94,398.79 L201.47,398.81 L202.00,398.84 L202.52,398.89 L203.04,398.94 L203.55,398.99 L204.04,399.02 L204.53,399.04 L205.00,399.06 L205.47,399.07 L205.93,399.07 L206.39,399.06 L206.83,399.05 L207.28,399.03 L207.72,399.00 L208.16,398.97 L208.60,398.93 L209.04,398.89 L209.47,398.85 L209.91,398.80 L210.36,398.74 L210.80,398.69 L211.25,398.63 L211.71,398.56 L212.17,398.50 L212.64,398.43 L213.12,398.37 L213.61,398.30 L214.11,398.23 L214.62,398.16 L215.14,398.09 L215.68,398.02 L216.23,397.96 L216.80,397.89 L217.38,397.83 L217.98,397.77 L218.60,397.71 L219.24,397.65 L219.90,397.60 L220.58,397.55 L221.28,397.50 L222.00,397.46 L222.75,397.43 L223.53,397.40 L224.36,397.37 L225.25,397.34 L226.19,397.31 L227.17,397.29 L228.19,397.26 L229.25,397.24 L230.35,397.21 L231.49,397.19 L232.65,397.17 L233.84,397.14 L235.05,397.12 L236.28,397.10 L237.53,397.08 L238.79,397.06 L240.07,397.04 L241.35,397.02 L242.64,397.00 L243.92,396.98 L245.21,396.96 L246.49,396.94 L247.76,396.92 L249.02,396.91 L250.26,396.89 L251.49,396.87 L252.69,396.86 L253.87,396.84 L255.02,396.83 L256.14,396.82 L257.23,396.80 L258.28,396.79 L259.29,396.78 L260.26,396.76 L261.18,396.75 L262.05,396.74 L262.87,396.73 L263.63,396.72 L264.33,396.71 L264.97,396.70 L265.54,396.69" fill="none" stroke="#88dcaa" stroke-width="1.55" stroke-linejoin="round" stroke-linecap="round"/>
<circle cx="97.79" cy="412.99" r="1.61" fill="url(#ball)"/>
<circle cx="118.49" cy="411.99" r="1.90" fill="url(#ball)"/>
<circle cx="139.50" cy="389.37" r="1.90" fill="url(#ball)"/>
<circle cx="160.51" cy="347.30" r="1.90" fill="url(#ball)"/>
<circle cx="181.51" cy="392.91" r="1.90" fill="url(#ball)"/>
<circle cx="202.52" cy="398.89" r="1.90" fill="url(#ball)"/>
<circle cx="223.53" cy="397.40" r="1.90" fill="url(#ball)"/>
<circle cx="265.54" cy="396.69" r="1.90" fill="url(#ball)"/>
<path d="M81.73,432.02 L82.02,432.00 L82.34,432.00 L82.68,432.02 L83.04,432.04 L83.43,432.06 L83.84,432.10 L84.27,432.14 L84.72,432.19 L85.20,432.24 L85.68,432.30 L86.19,432.36 L86.71,432.42 L87.25,432.48 L87.80,432.54 L88.37,432.60 L88.95,432.66 L89.53,432.71 L90.13,432.76 L90.74,432.80 L91.35,432.84 L91.98,432.86 L92.60,432.88 L93.24,432.89 L93.87,432.89 L94.51,432.88 L95.15,432.85 L95.79,432.81 L96.43,432.76 L97.07,432.69 L97.71,432.60 L98.34,432.50 L98.97,432.37 L99.60,432.23 L100.21,432.06 L100.82,431.88 L101.42,431.67 L102.02,431.43 L102.60,431.18 L103.17,430.89 L103.72,430.58 L104.27,430.25 L104.82,429.89 L105.37,429.52 L105.92,429.13 L106.47,428.72 L107.02,428.29 L107.57,427.85 L108.12,427.39 L108.67,426.91 L109.22,426.42 L109.77,425.91 L110.32,425.38 L110.87,424.84 L111.42,424.29 L111.97,423.72 L112.52,423.14 L113.07,422.54 L113.62,421.94 L114.17,421.31 L114.72,420.68 L115.27,420.03 L115.82,419.38 L116.37,418.71 L116.92,418.03 L117.46,417.34 L118.01,416.64 L118.56,415.93 L119.11,415.21 L119.66,414.48 L120.21,413.75 L120.76,413.00 L121.31,412.25 L121.86,411.49 L122.41,410.72 L122.96,409.95 L123.51,409.17 L124.06,408.38 L124.61,407.59 L125.16,406.79 L125.71,405.99 L126.26,405.15 L126.81,404.24 L127.36,403.27 L127.91,402.25 L128.46,401.17 L129.01,400.04 L129.56,398.87 L130.11,397.67 L130.66,396.42 L131.21,395.15 L131.76,393.85 L132.31,392.54 L132.86,391.20 L133.41,389.86 L133.96,388.51 L134.51,387.16 L135.06,385.81 L135.61,384.47 L136.15,383.14 L136.70,381.82 L137.25,380.53 L137.80,379.27 L138.35,378.03 L138.90,376.83 L139.45,375.67 L140.00,374.56 L140.55,373.49 L141.10,372.48 L141.65,371.52 L142.20,370.63 L142.75,369.81 L143.30,369.06 L143.85,368.38 L144.40,367.79 L144.95,367.28 L145.50,366.87 L146.05,366.54 L146.60,366.32 L147.15,366.21 L147.70,366.20 L148.25,366.31 L148.80,366.55 L149.35,366.90 L149.90,367.36 L150.45,367.92 L151.00,368.59 L151.55,369.35 L152.10,370.19 L152.65,371.12 L153.20,372.13 L153.75,373.21 L154.29,374.35 L154.84,375.55 L155.39,376.81 L155.94,378.11 L156.49,379.46 L157.04,380.85 L157.59,382.26 L158.14,383.70 L158.69,385.17 L159.24,386.64 L159.79,388.13 L160.34,389.62 L160.89,391.10 L161.44,392.58 L161.99,394.04 L162.54,395.49 L163.09,396.90 L163.64,398.29 L164.19,399.64 L164.74,400.95 L165.29,402.21 L165.84,403.42 L166.39,404.57 L166.94,405.66 L167.49,406.67 L168.04,407.61 L168.59,408.46 L169.14,409.23 L169.69,409.90 L170.24,410.51 L170.79,411.07 L171.34,411.60 L171.89,412.09 L172.44,412.54 L172.98,412.96 L173.53,413.34 L174.08,413.69 L174.63,414.01 L175.18,414.31 L175.73,414.57 L176.28,414.81 L176.83,415.02 L177.38,415.20 L177.93,415.37 L178.48,415.51 L179.03,415.64 L179.58,415.75 L180.13,415.84 L180.68,415.91 L181.23,415.97 L181.78,416.02 L182.33,416.06 L182.88,416.08 L183.43,416.10 L183.98,416.11 L184.53,416.12 L185.08,416.12 L185.63,416.12 L186.18,416.11 L186.73,416.11 L187.28,416.11 L187.83,416.11 L188.38,416.11 L188.93,416.12 L189.48,416.14 L190.03,416.16 L190.58,416.20 L191.13,416.24 L191.67,416.30 L192.22,416.36 L192.75,416.41 L193.27,416.45 L193.77,416.49 L194.27,416.51 L194.76,416.53 L195.25,416.54 L195.72,416.54 L196.19,416.54 L196.66,416.53 L197.12,416.51 L197.58,416.49 L198.04,416.46 L198.50,416.43 L198.95,416.39 L199.41,416.35 L199.88,416.30 L200.35,416.25 L200.82,416.20 L201.29,416.15 L201.78,416.09 L202.27,416.03 L202.77,415.97 L203.28,415.91 L203.81,415.85 L204.34,415.79 L204.89,415.73 L205.45,415.66 L206.03,415.60 L206.62,415.54 L207.23,415.48 L207.86,415.43 L208.51,415.37 L209.17,415.32 L209.86,415.27 L210.57,415.23 L211.31,415.18 L212.07,415.15 L212.85,415.11 L213.66,415.08 L214.54,415.06 L215.47,415.03 L216.45,415.00 L217.47,414.98 L218.55,414.95 L219.66,414.92 L220.81,414.90 L221.99,414.87 L223.21,414.84 L224.46,414.81 L225.72,414.79 L227.01,414.76 L228.32,414.74 L229.64,414.71 L230.98,414.68 L232.32,414.66 L233.66,414.63 L235.01,414.61 L236.36,414.58 L237.69,414.56 L239.02,414.54 L240.34,414.51 L241.64,414.49 L242.93,414.47 L244.19,414.45 L245.42,414.43 L246.63,414.41 L247.80,414.39 L248.94,414.37 L250.04,414.35 L251.10,414.33 L252.11,414.31 L253.08,414.30 L253.99,414.28 L254.84,414.26 L255.64,414.25 L256.37,414.24 L257.04,414.22 L257.64,414.21" fill="none" stroke="#80aef0" stroke-width="1.55" stroke-linejoin="round" stroke-linecap="round"/>
<circle cx="82.03" cy="432.02" r="1.61" fill="url(#ball)"/>
<circle cx="103.72" cy="430.58" r="1.90" fill="url(#ball)"/>
<circle cx="125.71" cy="405.99" r="1.90" fill="url(#ball)"/>
<circle cx="147.70" cy="366.20" r="1.90" fill="url(#ball)"/>
<circle cx="169.69" cy="409.90" r="1.90" fill="url(#ball)"/>
<circle cx="191.67" cy="416.30" r="1.90" fill="url(#ball)"/>
<circle cx="213.66" cy="415.08" r="1.90" fill="url(#ball)"/>
<circle cx="257.64" cy="414.21" r="1.90" fill="url(#ball)"/>
<path d="M64.43,452.01 L64.73,452.01 L65.06,452.01 L65.41,452.04 L65.80,452.07 L66.20,452.11 L66.64,452.16 L67.09,452.22 L67.56,452.29 L68.06,452.36 L68.57,452.44 L69.10,452.52 L69.65,452.60 L70.21,452.69 L70.79,452.77 L71.39,452.85 L71.99,452.93 L72.61,453.00 L73.24,453.08 L73.87,453.14 L74.52,453.20 L75.17,453.24 L75.83,453.28 L76.49,453.31 L77.16,453.33 L77.83,453.33 L78.50,453.32 L79.17,453.29 L79.85,453.25 L80.52,453.19 L81.18,453.11 L81.85,453.01 L82.51,452.89 L83.16,452.74 L83.81,452.58 L84.45,452.38 L85.08,452.16 L85.70,451.92 L86.31,451.64 L86.91,451.34 L87.49,451.01 L88.07,450.65 L88.64,450.26 L89.22,449.86 L89.80,449.43 L90.38,448.99 L90.95,448.52 L91.53,448.04 L92.11,447.54 L92.68,447.02 L93.26,446.48 L93.84,445.92 L94.41,445.34 L94.99,444.75 L95.56,444.14 L96.14,443.52 L96.72,442.88 L97.30,442.22 L97.87,441.55 L98.45,440.87 L99.03,440.17 L99.60,439.46 L100.18,438.74 L100.76,438.00 L101.33,437.25 L101.91,436.50 L102.49,435.72 L103.06,434.94 L103.64,434.15 L104.22,433.35 L104.79,432.54 L105.37,431.72 L105.95,430.89 L106.52,430.06 L107.10,429.21 L107.68,428.36 L108.25,427.50 L108.83,426.64 L109.41,425.77 L109.98,424.89 L110.56,424.01 L111.14,423.10 L111.71,422.14 L112.29,421.12 L112.87,420.06 L113.44,418.96 L114.02,417.82 L114.60,416.64 L115.17,415.43 L115.75,414.19 L116.32,412.93 L116.90,411.64 L117.48,410.33 L118.06,409.01 L118.63,407.68 L119.21,406.34 L119.79,404.99 L120.36,403.65 L120.94,402.31 L121.51,400.97 L122.09,399.64 L122.67,398.32 L123.25,397.02 L123.82,395.74 L124.40,394.49 L124.98,393.26 L125.55,392.06 L126.13,390.89 L126.70,389.77 L127.28,388.68 L127.86,387.63 L128.44,386.64 L129.01,385.69 L129.59,384.80 L130.17,383.97 L130.74,383.20 L131.32,382.50 L131.90,381.86 L132.47,381.29 L133.05,380.80 L133.62,380.39 L134.20,380.05 L134.78,379.76 L135.36,379.53 L135.93,379.34 L136.51,379.20 L137.09,379.12 L137.66,379.08 L138.24,379.08 L138.82,379.13 L139.39,379.22 L139.97,379.35 L140.54,379.52 L141.12,379.73 L141.70,379.97 L142.28,380.25 L142.85,380.57 L143.43,380.91 L144.01,381.29 L144.58,381.69 L145.16,382.13 L145.74,382.59 L146.31,383.07 L146.89,383.58 L147.47,384.11 L148.04,384.66 L148.62,385.23 L149.19,385.82 L149.77,386.43 L150.35,387.04 L150.92,387.68 L151.50,388.32 L152.08,388.98 L152.66,389.64 L153.23,390.31 L153.81,390.99 L154.39,391.67 L154.96,392.35 L155.54,393.04 L156.11,393.73 L156.69,394.42 L157.27,395.13 L157.84,395.90 L158.42,396.73 L159.00,397.60 L159.57,398.52 L160.15,399.49 L160.73,400.49 L161.31,401.53 L161.88,402.61 L162.46,403.72 L163.04,404.85 L163.61,406.01 L164.19,407.19 L164.76,408.39 L165.34,409.60 L165.92,410.83 L166.49,412.06 L167.07,413.30 L167.65,414.54 L168.23,415.77 L168.80,417.01 L169.38,418.23 L169.95,419.44 L170.53,420.64 L171.11,421.82 L171.69,422.98 L172.26,424.12 L172.84,425.23 L173.41,426.30 L173.99,427.35 L174.57,428.35 L175.14,429.32 L175.72,430.24 L176.30,431.12 L176.88,431.94 L177.45,432.71 L178.03,433.43 L178.61,434.08 L179.18,434.68 L179.76,435.20 L180.33,435.67 L180.88,436.08 L181.43,436.45 L181.96,436.77 L182.48,437.04 L183.00,437.27 L183.50,437.46 L184.00,437.61 L184.50,437.73 L184.98,437.80 L185.47,437.85 L185.95,437.86 L186.43,437.85 L186.91,437.81 L187.39,437.74 L187.88,437.65 L188.36,437.54 L188.85,437.41 L189.35,437.26 L189.85,437.10 L190.36,436.92 L190.88,436.74 L191.40,436.54 L191.94,436.34 L192.49,436.13 L193.05,435.92 L193.62,435.71 L194.21,435.50 L194.81,435.29 L195.44,435.09 L196.08,434.90 L196.74,434.71 L197.41,434.54 L198.12,434.37 L198.84,434.23 L199.58,434.10 L200.35,433.99 L201.15,433.90 L201.97,433.83 L202.83,433.79 L203.74,433.76 L204.72,433.73 L205.74,433.70 L206.82,433.67 L207.95,433.64 L209.11,433.61 L210.32,433.59 L211.56,433.56 L212.84,433.53 L214.15,433.50 L215.48,433.48 L216.83,433.45 L218.20,433.43 L219.59,433.40 L220.99,433.37 L222.40,433.35 L223.81,433.32 L225.22,433.30 L226.63,433.28 L228.03,433.25 L229.43,433.23 L230.81,433.21 L232.18,433.19 L233.52,433.16 L234.85,433.14 L236.14,433.12 L237.41,433.10 L238.64,433.09 L239.84,433.07 L240.99,433.05 L242.10,433.03 L243.16,433.02 L244.17,433.00 L245.13,432.98 L246.02,432.97 L246.86,432.96 L247.63,432.94 L248.33,432.93 L248.96,432.92" fill="none" stroke="#f28080" stroke-width="1.55" stroke-linejoin="round" stroke-linecap="round"/>
<circle cx="64.73" cy="452.01" r="1.61" fill="url(#ball)"/>
<circle cx="87.49" cy="451.01" r="1.90" fill="url(#ball)"/>
<circle cx="110.56" cy="424.01" r="1.90" fill="url(#ball)"/>
<circle cx="133.62" cy="380.39" r="1.90" fill="url(#ball)"/>
<circle cx="156.69" cy="394.42" r="1.90" fill="url(#ball)"/>
<circle cx="179.76" cy="435.20" r="1.90" fill="url(#ball)"/>
<circle cx="202.83" cy="433.79" r="1.90" fill="url(#ball)"/>
<circle cx="248.96" cy="432.92" r="1.90" fill="url(#ball)"/>
<path d="M45.32,476.01 L45.64,476.00 L45.98,476.00 L46.36,476.02 L46.76,476.05 L47.19,476.09 L47.64,476.14 L48.12,476.20 L48.62,476.27 L49.14,476.34 L49.68,476.42 L50.24,476.50 L50.81,476.58 L51.41,476.66 L52.01,476.75 L52.64,476.83 L53.27,476.90 L53.92,476.98 L54.58,477.05 L55.25,477.11 L55.93,477.16 L56.62,477.21 L57.31,477.24 L58.01,477.26 L58.71,477.27 L59.41,477.27 L60.12,477.24 L60.83,477.21 L61.53,477.15 L62.24,477.08 L62.94,476.98 L63.64,476.86 L64.34,476.72 L65.02,476.56 L65.70,476.37 L66.38,476.15 L67.04,475.90 L67.69,475.63 L68.33,475.32 L68.96,474.98 L69.58,474.61 L70.18,474.21 L70.79,473.80 L71.39,473.36 L72.00,472.90 L72.61,472.42 L73.21,471.92 L73.82,471.41 L74.43,470.87 L75.03,470.32 L75.64,469.74 L76.25,469.15 L76.85,468.54 L77.46,467.91 L78.06,467.27 L78.67,466.61 L79.28,465.93 L79.88,465.23 L80.49,464.51 L81.10,463.78 L81.70,463.04 L82.31,462.27 L82.92,461.49 L83.52,460.70 L84.13,459.89 L84.74,459.06 L85.34,458.22 L85.95,457.36 L86.55,456.49 L87.16,455.61 L87.77,454.71 L88.37,453.79 L88.98,452.87 L89.59,451.92 L90.19,450.97 L90.80,450.00 L91.41,449.02 L92.01,448.03 L92.62,447.02 L93.23,446.00 L93.83,444.97 L94.44,443.90 L95.05,442.76 L95.65,441.57 L96.26,440.32 L96.86,439.02 L97.47,437.67 L98.08,436.28 L98.68,434.85 L99.29,433.38 L99.90,431.88 L100.50,430.35 L101.11,428.80 L101.72,427.22 L102.32,425.64 L102.93,424.03 L103.54,422.43 L104.14,420.81 L104.75,419.20 L105.35,417.59 L105.96,415.99 L106.57,414.40 L107.17,412.82 L107.78,411.27 L108.39,409.73 L108.99,408.23 L109.60,406.75 L110.21,405.32 L110.81,403.92 L111.42,402.56 L112.02,401.25 L112.63,400.00 L113.24,398.80 L113.84,397.65 L114.45,396.57 L115.06,395.56 L115.66,394.62 L116.27,393.75 L116.88,392.96 L117.48,392.26 L118.09,391.64 L118.70,391.09 L119.30,390.58 L119.91,390.12 L120.52,389.70 L121.12,389.32 L121.73,388.98 L122.33,388.69 L122.94,388.43 L123.55,388.22 L124.15,388.04 L124.76,387.91 L125.37,387.82 L125.97,387.76 L126.58,387.74 L127.19,387.76 L127.79,387.82 L128.40,387.91 L129.00,388.04 L129.61,388.21 L130.22,388.41 L130.82,388.64 L131.43,388.91 L132.04,389.22 L132.64,389.55 L133.25,389.92 L133.86,390.32 L134.46,390.76 L135.07,391.22 L135.68,391.72 L136.28,392.25 L136.89,392.80 L137.50,393.39 L138.10,394.01 L138.71,394.65 L139.31,395.32 L139.92,396.02 L140.53,396.75 L141.13,397.50 L141.74,398.28 L142.35,399.09 L142.95,399.95 L143.56,400.92 L144.17,401.97 L144.77,403.11 L145.38,404.32 L145.98,405.62 L146.59,406.98 L147.20,408.40 L147.80,409.89 L148.41,411.43 L149.02,413.01 L149.62,414.65 L150.23,416.32 L150.84,418.02 L151.44,419.75 L152.05,421.50 L152.66,423.28 L153.26,425.06 L153.87,426.85 L154.48,428.65 L155.08,430.44 L155.69,432.22 L156.29,433.99 L156.90,435.74 L157.51,437.47 L158.11,439.17 L158.72,440.84 L159.33,442.47 L159.93,444.05 L160.54,445.58 L161.15,447.06 L161.75,448.48 L162.36,449.84 L162.96,451.12 L163.57,452.33 L164.18,453.46 L164.78,454.51 L165.39,455.46 L166.00,456.32 L166.60,457.08 L167.20,457.74 L167.79,458.34 L168.36,458.87 L168.92,459.33 L169.47,459.72 L170.01,460.06 L170.54,460.34 L171.07,460.56 L171.59,460.73 L172.10,460.85 L172.61,460.92 L173.12,460.95 L173.62,460.94 L174.13,460.89 L174.63,460.81 L175.14,460.69 L175.65,460.54 L176.17,460.37 L176.69,460.17 L177.22,459.95 L177.75,459.72 L178.29,459.46 L178.85,459.20 L179.41,458.92 L179.99,458.64 L180.58,458.35 L181.18,458.07 L181.80,457.78 L182.44,457.50 L183.09,457.22 L183.76,456.96 L184.46,456.71 L185.17,456.47 L185.91,456.25 L186.67,456.05 L187.45,455.88 L188.26,455.74 L189.10,455.62 L189.97,455.54 L190.86,455.49 L191.82,455.46 L192.85,455.43 L193.93,455.41 L195.06,455.38 L196.25,455.35 L197.47,455.33 L198.74,455.30 L200.05,455.27 L201.39,455.25 L202.77,455.23 L204.17,455.20 L205.59,455.18 L207.03,455.16 L208.49,455.14 L209.96,455.12 L211.44,455.10 L212.93,455.08 L214.41,455.06 L215.89,455.04 L217.37,455.02 L218.84,455.00 L220.29,454.99 L221.73,454.97 L223.14,454.96 L224.54,454.94 L225.90,454.92 L227.23,454.91 L228.53,454.90 L229.78,454.88 L230.99,454.87 L232.16,454.86 L233.28,454.84 L234.34,454.83 L235.35,454.82 L236.29,454.81 L237.17,454.80 L237.98,454.79 L238.71,454.78 L239.38,454.77" fill="none" stroke="#9a9a9a" stroke-width="1.55" stroke-linejoin="round" stroke-linecap="round"/>
<circle cx="45.32" cy="476.01" r="1.90" fill="url(#ball)"/>
<circle cx="69.58" cy="474.61" r="1.90" fill="url(#ball)"/>
<circle cx="93.83" cy="444.97" r="1.90" fill="url(#ball)"/>
<circle cx="118.09" cy="391.64" r="1.90" fill="url(#ball)"/>
<circle cx="142.35" cy="399.09" r="1.90" fill="url(#ball)"/>
<circle cx="166.60" cy="457.08" r="1.90" fill="url(#ball)"/>
<circle cx="190.86" cy="455.49" r="1.90" fill="url(#ball)"/>
<circle cx="239.38" cy="454.77" r="1.90" fill="url(#ball)"/>
<line x1="35.00" y1="544.50" x2="35.00" y2="384.20" stroke="#8a8a8a" stroke-width="1.8" />
<line x1="35.00" y1="544.50" x2="234.20" y2="544.50" stroke="#484848" stroke-width="1.5" />
<line x1="234.20" y1="544.50" x2="282.50" y2="418.20" stroke="#3a3a3a" stroke-width="1.3" />
<line x1="31.00" y1="544.50" x2="35.00" y2="544.50" stroke="#444444" stroke-width="1.2" />
<text x="28.70" y="548.30" text-anchor="end" class="ser sl" font-size="8.2">0</text>
<line x1="31.00" y1="519.84" x2="35.00" y2="519.84" stroke="#444444" stroke-width="1.2" />
<text x="28.70" y="523.64" text-anchor="end" class="ser sl" font-size="8.2">5</text>
<line x1="31.00" y1="495.18" x2="35.00" y2="495.18" stroke="#444444" stroke-width="1.2" />
<text x="28.70" y="498.98" text-anchor="end" class="ser sl" font-size="8.2">10</text>
<line x1="31.00" y1="470.52" x2="35.00" y2="470.52" stroke="#444444" stroke-width="1.2" />
<text x="28.70" y="474.32" text-anchor="end" class="ser sl" font-size="8.2">15</text>
<line x1="31.00" y1="445.85" x2="35.00" y2="445.85" stroke="#444444" stroke-width="1.2" />
<text x="28.70" y="449.65" text-anchor="end" class="ser sl" font-size="8.2">20</text>
<line x1="31.00" y1="421.19" x2="35.00" y2="421.19" stroke="#444444" stroke-width="1.2" />
<text x="28.70" y="424.99" text-anchor="end" class="ser sl" font-size="8.2">25</text>
<line x1="31.00" y1="396.53" x2="35.00" y2="396.53" stroke="#444444" stroke-width="1.2" />
<text x="28.70" y="400.33" text-anchor="end" class="ser sl" font-size="8.2">30</text>
<line x1="32.50" y1="532.17" x2="35.00" y2="532.17" stroke="#444444" stroke-width="1.0" />
<line x1="32.50" y1="507.51" x2="35.00" y2="507.51" stroke="#444444" stroke-width="1.0" />
<line x1="32.50" y1="482.85" x2="35.00" y2="482.85" stroke="#444444" stroke-width="1.0" />
<line x1="32.50" y1="458.18" x2="35.00" y2="458.18" stroke="#444444" stroke-width="1.0" />
<line x1="32.50" y1="433.52" x2="35.00" y2="433.52" stroke="#444444" stroke-width="1.0" />
<line x1="32.50" y1="408.86" x2="35.00" y2="408.86" stroke="#444444" stroke-width="1.0" />
<line x1="32.50" y1="384.20" x2="35.00" y2="384.20" stroke="#444444" stroke-width="1.0" />
<line x1="35.00" y1="544.50" x2="35.00" y2="548.50" stroke="#444444" stroke-width="1.2" />
<text x="35.00" y="559.50" text-anchor="middle" class="ser sl" font-size="8">0. 1</text>
<line x1="84.80" y1="544.50" x2="84.80" y2="548.50" stroke="#444444" stroke-width="1.2" />
<text x="84.80" y="559.50" text-anchor="middle" class="ser sl" font-size="8">0. 2</text>
<line x1="134.60" y1="544.50" x2="134.60" y2="548.50" stroke="#444444" stroke-width="1.2" />
<text x="134.60" y="559.50" text-anchor="middle" class="ser sl" font-size="8">0. 3</text>
<line x1="184.40" y1="544.50" x2="184.40" y2="548.50" stroke="#444444" stroke-width="1.2" />
<text x="184.40" y="559.50" text-anchor="middle" class="ser sl" font-size="8">0. 4</text>
<line x1="234.20" y1="544.50" x2="234.20" y2="548.50" stroke="#444444" stroke-width="1.2" />
<text x="234.20" y="559.50" text-anchor="middle" class="ser sl" font-size="8">0. 5</text>
<line x1="59.90" y1="544.50" x2="59.90" y2="547.00" stroke="#444444" stroke-width="1.0" />
<line x1="109.70" y1="544.50" x2="109.70" y2="547.00" stroke="#444444" stroke-width="1.0" />
<line x1="159.50" y1="544.50" x2="159.50" y2="547.00" stroke="#444444" stroke-width="1.0" />
<line x1="209.30" y1="544.50" x2="209.30" y2="547.00" stroke="#444444" stroke-width="1.0" />
<line x1="239.38" y1="530.97" x2="243.38" y2="530.97" stroke="#444444" stroke-width="1.1" />
<text x="245.51" y="534.57" class="ser sl" font-size="7.50">1. 0</text>
<line x1="248.96" y1="505.91" x2="252.96" y2="505.91" stroke="#444444" stroke-width="1.1" />
<text x="254.80" y="509.34" class="ser sl" font-size="7.14">1. 1</text>
<line x1="257.64" y1="483.21" x2="261.64" y2="483.21" stroke="#444444" stroke-width="1.1" />
<text x="263.21" y="486.48" class="ser sl" font-size="6.80">1. 2</text>
<line x1="265.54" y1="462.55" x2="269.54" y2="462.55" stroke="#444444" stroke-width="1.1" />
<text x="270.86" y="465.67" class="ser sl" font-size="6.50">1. 3</text>
<line x1="272.76" y1="443.66" x2="276.76" y2="443.66" stroke="#444444" stroke-width="1.1" />
<text x="277.85" y="446.65" class="ser sl" font-size="6.22">1. 4</text>
<line x1="279.39" y1="426.34" x2="283.39" y2="426.34" stroke="#444444" stroke-width="1.1" />
<text x="284.27" y="429.21" class="ser sl" font-size="5.97">1. 5</text>
<line x1="244.29" y1="518.12" x2="246.79" y2="518.12" stroke="#444444" stroke-width="0.9" />
<line x1="253.40" y1="494.28" x2="255.90" y2="494.28" stroke="#444444" stroke-width="0.9" />
<line x1="261.68" y1="472.64" x2="264.18" y2="472.64" stroke="#444444" stroke-width="0.9" />
<line x1="269.23" y1="452.90" x2="271.73" y2="452.90" stroke="#444444" stroke-width="0.9" />
<line x1="276.14" y1="434.82" x2="278.64" y2="434.82" stroke="#444444" stroke-width="0.9" />
<polygon points="357.50,542.20 357.50,385.50 451.20,300.10 451.20,418.30" fill="#e1f6f5" stroke="none" stroke-width="0"/>
<polygon points="451.20,418.30 597.90,418.30 597.90,300.10 451.20,300.10" fill="#ffffe0" stroke="none" stroke-width="0"/>
<polygon points="357.50,542.20 550.80,542.20 597.90,418.30 451.20,418.30" fill="#f0f0f0" stroke="none" stroke-width="0"/>
<line x1="357.50" y1="507.38" x2="451.20" y2="392.03" stroke="#a8b1af" stroke-width="0.7" />
<line x1="451.20" y1="392.03" x2="597.90" y2="392.03" stroke="#cacab2" stroke-width="1.05" />
<line x1="357.50" y1="472.56" x2="451.20" y2="365.77" stroke="#a8b1af" stroke-width="0.7" />
<line x1="451.20" y1="365.77" x2="597.90" y2="365.77" stroke="#cacab2" stroke-width="1.05" />
<line x1="357.50" y1="437.73" x2="451.20" y2="339.50" stroke="#a8b1af" stroke-width="0.7" />
<line x1="451.20" y1="339.50" x2="597.90" y2="339.50" stroke="#cacab2" stroke-width="1.05" />
<line x1="357.50" y1="402.91" x2="451.20" y2="313.23" stroke="#a8b1af" stroke-width="0.7" />
<line x1="451.20" y1="313.23" x2="597.90" y2="313.23" stroke="#cacab2" stroke-width="1.05" />
<line x1="405.82" y1="542.20" x2="487.88" y2="418.30" stroke="#b8b8b8" stroke-width="0.6" />
<line x1="487.88" y1="418.30" x2="487.88" y2="300.10" stroke="#cacab2" stroke-width="1.05" />
<line x1="454.15" y1="542.20" x2="524.55" y2="418.30" stroke="#b8b8b8" stroke-width="0.6" />
<line x1="524.55" y1="418.30" x2="524.55" y2="300.10" stroke="#cacab2" stroke-width="1.05" />
<line x1="502.48" y1="542.20" x2="561.23" y2="418.30" stroke="#b8b8b8" stroke-width="0.6" />
<line x1="561.23" y1="418.30" x2="561.23" y2="300.10" stroke="#cacab2" stroke-width="1.05" />
<line x1="367.54" y1="528.93" x2="367.54" y2="376.35" stroke="#cddcda" stroke-width="0.8" />
<line x1="367.54" y1="528.93" x2="555.85" y2="528.93" stroke="#dcdcdc" stroke-width="1.0" />
<line x1="386.13" y1="504.34" x2="386.13" y2="359.41" stroke="#cddcda" stroke-width="0.8" />
<line x1="386.13" y1="504.34" x2="565.19" y2="504.34" stroke="#dcdcdc" stroke-width="1.0" />
<line x1="402.97" y1="482.07" x2="402.97" y2="344.06" stroke="#cddcda" stroke-width="0.8" />
<line x1="402.97" y1="482.07" x2="573.66" y2="482.07" stroke="#dcdcdc" stroke-width="1.0" />
<line x1="418.30" y1="461.80" x2="418.30" y2="330.09" stroke="#cddcda" stroke-width="0.8" />
<line x1="418.30" y1="461.80" x2="581.36" y2="461.80" stroke="#dcdcdc" stroke-width="1.0" />
<line x1="432.31" y1="443.28" x2="432.31" y2="317.32" stroke="#cddcda" stroke-width="0.8" />
<line x1="432.31" y1="443.28" x2="588.40" y2="443.28" stroke="#dcdcdc" stroke-width="1.0" />
<line x1="445.16" y1="426.28" x2="445.16" y2="305.60" stroke="#cddcda" stroke-width="0.8" />
<line x1="445.16" y1="426.28" x2="594.87" y2="426.28" stroke="#dcdcdc" stroke-width="1.0" />
<line x1="357.50" y1="385.50" x2="451.20" y2="300.10" stroke="#9aa39e" stroke-width="0.9" />
<line x1="357.50" y1="542.20" x2="451.20" y2="418.30" stroke="#9aa39e" stroke-width="0.9" />
<polygon points="451.20,418.30 597.90,418.30 597.90,300.10 451.20,300.10" fill="none" stroke="#b4b8a8" stroke-width="1.0"/>
<path d="M445.16,383.70 L445.41,383.56 L445.68,383.41 L445.97,383.26 L446.28,383.11 L446.61,382.95 L446.96,382.78 L447.32,382.61 L447.71,382.44 L448.11,382.25 L448.53,382.07 L448.96,381.87 L449.40,381.67 L449.86,381.46 L450.33,381.25 L450.81,381.02 L451.30,380.80 L451.80,380.56 L452.31,380.32 L452.83,380.06 L453.35,379.80 L453.88,379.54 L454.41,379.26 L454.95,378.98 L455.49,378.69 L456.04,378.38 L456.58,378.07 L457.13,377.75 L457.67,377.43 L458.22,377.09 L458.76,376.74 L459.30,376.38 L459.83,376.02 L460.36,375.64 L460.89,375.25 L461.41,374.85 L461.92,374.45 L462.42,374.03 L462.92,373.60 L463.40,373.15 L463.88,372.70 L464.34,372.23 L464.81,371.73 L465.28,371.20 L465.75,370.64 L466.21,370.06 L466.68,369.46 L467.15,368.84 L467.62,368.20 L468.09,367.54 L468.55,366.87 L469.02,366.18 L469.49,365.48 L469.96,364.76 L470.42,364.04 L470.89,363.31 L471.36,362.57 L471.83,361.83 L472.30,361.08 L472.76,360.34 L473.23,359.59 L473.70,358.84 L474.17,358.10 L474.64,357.36 L475.10,356.62 L475.57,355.90 L476.04,355.18 L476.51,354.48 L476.97,353.78 L477.44,353.11 L477.91,352.44 L478.38,351.80 L478.85,351.17 L479.31,350.56 L479.78,349.97 L480.25,349.41 L480.72,348.88 L481.18,348.37 L481.65,347.88 L482.12,347.43 L482.59,347.01 L483.06,346.61 L483.52,346.21 L483.99,345.81 L484.46,345.42 L484.93,345.03 L485.40,344.65 L485.86,344.28 L486.33,343.92 L486.80,343.56 L487.27,343.21 L487.73,342.88 L488.20,342.55 L488.67,342.23 L489.14,341.93 L489.61,341.63 L490.07,341.35 L490.54,341.09 L491.01,340.83 L491.48,340.60 L491.94,340.38 L492.41,340.17 L492.88,339.98 L493.35,339.82 L493.82,339.66 L494.28,339.53 L494.75,339.42 L495.22,339.33 L495.69,339.26 L496.16,339.21 L496.62,339.18 L497.09,339.18 L497.56,339.20 L498.03,339.24 L498.49,339.31 L498.96,339.41 L499.43,339.53 L499.90,339.68 L500.37,339.86 L500.83,340.07 L501.30,340.30 L501.77,340.59 L502.24,340.92 L502.70,341.32 L503.17,341.76 L503.64,342.25 L504.11,342.79 L504.58,343.37 L505.04,343.98 L505.51,344.64 L505.98,345.33 L506.45,346.05 L506.91,346.80 L507.38,347.57 L507.85,348.36 L508.32,349.18 L508.79,350.01 L509.25,350.85 L509.72,351.70 L510.19,352.56 L510.66,353.42 L511.13,354.29 L511.59,355.15 L512.06,356.01 L512.53,356.86 L513.00,357.71 L513.46,358.54 L513.93,359.35 L514.40,360.14 L514.87,360.91 L515.34,361.66 L515.80,362.38 L516.27,363.06 L516.74,363.72 L517.21,364.33 L517.67,364.91 L518.14,365.44 L518.61,365.93 L519.08,366.37 L519.55,366.76 L520.01,367.10 L520.48,367.38 L520.95,367.63 L521.42,367.85 L521.89,368.03 L522.35,368.17 L522.82,368.29 L523.29,368.38 L523.76,368.43 L524.22,368.47 L524.69,368.47 L525.16,368.46 L525.63,368.42 L526.10,368.36 L526.56,368.28 L527.03,368.19 L527.50,368.08 L527.97,367.95 L528.43,367.82 L528.90,367.67 L529.37,367.51 L529.84,367.35 L530.31,367.18 L530.77,367.00 L531.24,366.82 L531.71,366.64 L532.18,366.46 L532.65,366.28 L533.11,366.11 L533.58,365.94 L534.05,365.77 L534.52,365.62 L534.98,365.47 L535.45,365.33 L535.92,365.21 L536.39,365.10 L536.86,365.01 L537.32,364.93 L537.79,364.87 L538.26,364.83 L538.73,364.82 L539.19,364.81 L539.64,364.82 L540.08,364.82 L540.51,364.83 L540.94,364.85 L541.35,364.87 L541.77,364.89 L542.17,364.92 L542.57,364.94 L542.97,364.98 L543.36,365.01 L543.75,365.05 L544.14,365.09 L544.53,365.14 L544.92,365.19 L545.31,365.23 L545.71,365.29 L546.11,365.34 L546.51,365.39 L546.91,365.45 L547.33,365.51 L547.75,365.57 L548.17,365.63 L548.61,365.69 L549.05,365.76 L549.51,365.82 L549.97,365.89 L550.45,365.95 L550.94,366.02 L551.45,366.08 L551.96,366.15 L552.50,366.22 L553.05,366.28 L553.62,366.35 L554.21,366.41 L554.81,366.48 L555.44,366.54 L556.08,366.60 L556.75,366.66 L557.44,366.72 L558.18,366.78 L558.97,366.85 L559.81,366.91 L560.68,366.98 L561.59,367.06 L562.54,367.13 L563.52,367.20 L564.53,367.28 L565.57,367.36 L566.62,367.44 L567.70,367.52 L568.80,367.60 L569.91,367.69 L571.04,367.77 L572.17,367.86 L573.32,367.94 L574.46,368.02 L575.61,368.11 L576.75,368.19 L577.89,368.28 L579.02,368.36 L580.14,368.44 L581.25,368.52 L582.34,368.60 L583.42,368.68 L584.47,368.75 L585.50,368.83 L586.50,368.90 L587.46,368.97 L588.40,369.04 L589.30,369.10 L590.16,369.17 L590.98,369.23 L591.76,369.28 L592.48,369.33 L593.16,369.38 L593.79,369.43 L594.36,369.47 L594.87,369.51" fill="none" stroke="#ffcc55" stroke-width="1.55" stroke-linejoin="round" stroke-linecap="round"/>
<circle cx="445.46" cy="383.70" r="1.61" fill="url(#ball)"/>
<circle cx="463.88" cy="372.70" r="1.90" fill="url(#ball)"/>
<circle cx="482.59" cy="347.01" r="1.90" fill="url(#ball)"/>
<circle cx="501.30" cy="340.30" r="1.90" fill="url(#ball)"/>
<circle cx="520.01" cy="367.10" r="1.90" fill="url(#ball)"/>
<circle cx="538.73" cy="364.82" r="1.90" fill="url(#ball)"/>
<circle cx="557.44" cy="366.72" r="1.90" fill="url(#ball)"/>
<circle cx="594.87" cy="369.51" r="1.90" fill="url(#ball)"/>
<path d="M432.31,399.95 L432.56,399.83 L432.84,399.71 L433.15,399.60 L433.47,399.50 L433.81,399.39 L434.18,399.29 L434.56,399.19 L434.96,399.08 L435.38,398.98 L435.81,398.88 L436.26,398.77 L436.73,398.65 L437.21,398.54 L437.70,398.41 L438.20,398.28 L438.71,398.15 L439.23,398.00 L439.76,397.84 L440.30,397.68 L440.85,397.50 L441.40,397.31 L441.95,397.10 L442.51,396.89 L443.08,396.65 L443.65,396.40 L444.21,396.14 L444.78,395.85 L445.35,395.55 L445.92,395.23 L446.49,394.88 L447.05,394.52 L447.61,394.13 L448.16,393.72 L448.71,393.28 L449.25,392.82 L449.78,392.33 L450.31,391.82 L450.82,391.27 L451.33,390.70 L451.82,390.10 L452.31,389.44 L452.80,388.72 L453.28,387.94 L453.77,387.10 L454.26,386.21 L454.75,385.26 L455.24,384.27 L455.72,383.24 L456.21,382.16 L456.70,381.05 L457.19,379.91 L457.67,378.74 L458.16,377.55 L458.65,376.34 L459.14,375.11 L459.63,373.87 L460.11,372.62 L460.60,371.36 L461.09,370.11 L461.58,368.86 L462.06,367.62 L462.55,366.38 L463.04,365.17 L463.53,363.97 L464.02,362.79 L464.50,361.64 L464.99,360.52 L465.48,359.44 L465.97,358.39 L466.45,357.38 L466.94,356.42 L467.43,355.51 L467.92,354.66 L468.41,353.86 L468.89,353.12 L469.38,352.45 L469.87,351.85 L470.36,351.31 L470.84,350.86 L471.33,350.49 L471.82,350.19 L472.31,349.95 L472.80,349.76 L473.28,349.63 L473.77,349.56 L474.26,349.53 L474.75,349.56 L475.24,349.63 L475.72,349.75 L476.21,349.90 L476.70,350.10 L477.19,350.34 L477.67,350.61 L478.16,350.92 L478.65,351.25 L479.14,351.62 L479.63,352.01 L480.11,352.43 L480.60,352.87 L481.09,353.34 L481.58,353.82 L482.06,354.31 L482.55,354.82 L483.04,355.35 L483.53,355.88 L484.02,356.42 L484.50,356.97 L484.99,357.51 L485.48,358.06 L485.97,358.61 L486.45,359.16 L486.94,359.70 L487.43,360.23 L487.92,360.75 L488.41,361.26 L488.89,361.76 L489.38,362.24 L489.87,362.70 L490.36,363.14 L490.84,363.56 L491.33,363.98 L491.82,364.42 L492.31,364.87 L492.80,365.35 L493.28,365.84 L493.77,366.35 L494.26,366.88 L494.75,367.41 L495.23,367.96 L495.72,368.52 L496.21,369.08 L496.70,369.66 L497.19,370.24 L497.67,370.82 L498.16,371.41 L498.65,372.00 L499.14,372.58 L499.62,373.17 L500.11,373.76 L500.60,374.34 L501.09,374.91 L501.58,375.48 L502.06,376.04 L502.55,376.59 L503.04,377.13 L503.53,377.66 L504.02,378.18 L504.50,378.67 L504.99,379.16 L505.48,379.62 L505.97,380.06 L506.45,380.49 L506.94,380.89 L507.43,381.27 L507.92,381.62 L508.41,381.95 L508.89,382.24 L509.38,382.51 L509.87,382.75 L510.36,382.96 L510.84,383.13 L511.33,383.28 L511.82,383.39 L512.31,383.48 L512.80,383.54 L513.28,383.58 L513.77,383.59 L514.26,383.58 L514.75,383.54 L515.23,383.49 L515.72,383.42 L516.21,383.33 L516.70,383.22 L517.19,383.10 L517.67,382.97 L518.16,382.82 L518.65,382.66 L519.14,382.49 L519.62,382.31 L520.11,382.13 L520.60,381.93 L521.09,381.74 L521.58,381.54 L522.06,381.33 L522.55,381.13 L523.04,380.92 L523.53,380.72 L524.01,380.52 L524.50,380.32 L524.99,380.13 L525.48,379.94 L525.97,379.77 L526.45,379.60 L526.94,379.44 L527.43,379.29 L527.92,379.15 L528.40,379.03 L528.89,378.92 L529.38,378.83 L529.87,378.76 L530.35,378.70 L530.82,378.65 L531.28,378.61 L531.73,378.57 L532.17,378.54 L532.61,378.52 L533.04,378.50 L533.46,378.49 L533.88,378.48 L534.29,378.48 L534.70,378.48 L535.11,378.48 L535.51,378.49 L535.92,378.50 L536.33,378.51 L536.74,378.52 L537.15,378.54 L537.56,378.55 L537.98,378.56 L538.40,378.57 L538.83,378.58 L539.27,378.59 L539.72,378.60 L540.17,378.60 L540.63,378.60 L541.11,378.60 L541.59,378.59 L542.09,378.58 L542.60,378.56 L543.13,378.54 L543.67,378.51 L544.23,378.47 L544.80,378.43 L545.40,378.37 L546.01,378.31 L546.64,378.24 L547.29,378.16 L547.96,378.07 L548.66,377.97 L549.38,377.86 L550.16,377.74 L550.98,377.60 L551.85,377.44 L552.76,377.27 L553.71,377.09 L554.70,376.90 L555.72,376.70 L556.77,376.49 L557.85,376.27 L558.96,376.04 L560.08,375.80 L561.23,375.56 L562.39,375.31 L563.56,375.06 L564.74,374.80 L565.93,374.54 L567.13,374.27 L568.32,374.01 L569.52,373.74 L570.70,373.48 L571.89,373.21 L573.05,372.95 L574.21,372.68 L575.35,372.43 L576.47,372.17 L577.56,371.92 L578.63,371.68 L579.68,371.44 L580.69,371.21 L581.66,370.98 L582.60,370.77 L583.50,370.57 L584.35,370.37 L585.16,370.19 L585.92,370.02 L586.63,369.86 L587.28,369.71 L587.87,369.58 L588.40,369.47" fill="none" stroke="#c8a8ee" stroke-width="1.55" stroke-linejoin="round" stroke-linecap="round"/>
<circle cx="432.61" cy="399.95" r="1.61" fill="url(#ball)"/>
<circle cx="451.82" cy="390.10" r="1.90" fill="url(#ball)"/>
<circle cx="471.33" cy="350.49" r="1.90" fill="url(#ball)"/>
<circle cx="490.84" cy="363.56" r="1.90" fill="url(#ball)"/>
<circle cx="510.36" cy="382.96" r="1.90" fill="url(#ball)"/>
<circle cx="529.87" cy="378.76" r="1.90" fill="url(#ball)"/>
<circle cx="549.38" cy="377.86" r="1.90" fill="url(#ball)"/>
<circle cx="588.40" cy="369.47" r="1.90" fill="url(#ball)"/>
<path d="M418.30,414.18 L418.57,414.12 L418.86,414.09 L419.17,414.07 L419.51,414.06 L419.87,414.07 L420.25,414.09 L420.65,414.11 L421.07,414.15 L421.51,414.19 L421.96,414.24 L422.43,414.29 L422.92,414.34 L423.42,414.39 L423.93,414.43 L424.45,414.48 L424.99,414.51 L425.53,414.54 L426.08,414.56 L426.65,414.56 L427.22,414.56 L427.79,414.53 L428.38,414.49 L428.96,414.44 L429.55,414.36 L430.14,414.26 L430.74,414.13 L431.33,413.98 L431.93,413.81 L432.52,413.60 L433.11,413.36 L433.70,413.09 L434.28,412.78 L434.86,412.44 L435.43,412.06 L436.00,411.64 L436.55,411.18 L437.10,410.68 L437.64,410.13 L438.17,409.53 L438.68,408.88 L439.19,408.17 L439.70,407.39 L440.21,406.53 L440.72,405.61 L441.23,404.63 L441.74,403.59 L442.25,402.49 L442.76,401.34 L443.27,400.14 L443.78,398.90 L444.29,397.62 L444.80,396.31 L445.31,394.96 L445.82,393.58 L446.33,392.18 L446.84,390.76 L447.35,389.32 L447.85,387.87 L448.36,386.41 L448.87,384.95 L449.38,383.48 L449.89,382.02 L450.40,380.56 L450.91,379.11 L451.42,377.68 L451.93,376.27 L452.44,374.87 L452.95,373.51 L453.46,372.17 L453.97,370.86 L454.48,369.60 L454.99,368.37 L455.50,367.19 L456.01,366.06 L456.52,364.98 L457.03,363.95 L457.54,362.99 L458.05,362.09 L458.56,361.26 L459.07,360.50 L459.57,359.79 L460.08,359.11 L460.59,358.45 L461.10,357.83 L461.61,357.22 L462.12,356.65 L462.63,356.10 L463.14,355.58 L463.65,355.08 L464.16,354.60 L464.67,354.16 L465.18,353.73 L465.69,353.34 L466.20,352.96 L466.71,352.61 L467.22,352.29 L467.73,351.99 L468.24,351.71 L468.75,351.45 L469.26,351.22 L469.77,351.01 L470.28,350.83 L470.79,350.66 L471.29,350.52 L471.80,350.40 L472.31,350.30 L472.82,350.23 L473.33,350.17 L473.84,350.14 L474.35,350.13 L474.86,350.14 L475.37,350.16 L475.88,350.21 L476.39,350.28 L476.90,350.37 L477.41,350.48 L477.92,350.61 L478.43,350.75 L478.94,350.92 L479.45,351.10 L479.96,351.32 L480.47,351.58 L480.98,351.89 L481.49,352.23 L482.00,352.62 L482.51,353.04 L483.02,353.50 L483.52,353.99 L484.03,354.52 L484.54,355.07 L485.05,355.65 L485.56,356.26 L486.07,356.89 L486.58,357.54 L487.09,358.22 L487.60,358.91 L488.11,359.61 L488.62,360.34 L489.13,361.07 L489.64,361.82 L490.15,362.57 L490.66,363.33 L491.17,364.10 L491.68,364.87 L492.19,365.63 L492.70,366.40 L493.21,367.17 L493.72,367.93 L494.23,368.68 L494.74,369.43 L495.24,370.16 L495.75,370.89 L496.26,371.59 L496.77,372.28 L497.28,372.96 L497.79,373.61 L498.30,374.24 L498.81,374.85 L499.32,375.43 L499.83,375.98 L500.34,376.52 L500.85,377.06 L501.36,377.60 L501.87,378.13 L502.38,378.67 L502.89,379.20 L503.40,379.74 L503.91,380.27 L504.42,380.79 L504.93,381.32 L505.44,381.84 L505.95,382.36 L506.46,382.87 L506.96,383.39 L507.47,383.89 L507.98,384.39 L508.49,384.89 L509.00,385.38 L509.51,385.87 L510.02,386.35 L510.53,386.82 L511.04,387.29 L511.55,387.75 L512.06,388.20 L512.57,388.64 L513.08,389.08 L513.59,389.51 L514.10,389.93 L514.61,390.34 L515.12,390.74 L515.63,391.14 L516.14,391.52 L516.65,391.89 L517.16,392.25 L517.67,392.60 L518.18,392.94 L518.68,393.27 L519.19,393.59 L519.70,393.90 L520.21,394.19 L520.72,394.47 L521.21,394.73 L521.69,394.99 L522.16,395.23 L522.62,395.45 L523.08,395.67 L523.52,395.87 L523.96,396.06 L524.40,396.25 L524.83,396.42 L525.26,396.58 L525.69,396.73 L526.11,396.87 L526.54,397.01 L526.96,397.13 L527.39,397.25 L527.82,397.36 L528.25,397.47 L528.69,397.57 L529.13,397.66 L529.58,397.75 L530.04,397.83 L530.50,397.90 L530.98,397.98 L531.46,398.04 L531.96,398.11 L532.46,398.17 L532.98,398.23 L533.52,398.29 L534.07,398.34 L534.63,398.40 L535.22,398.45 L535.82,398.51 L536.43,398.56 L537.07,398.61 L537.73,398.67 L538.41,398.72 L539.12,398.78 L539.84,398.84 L540.60,398.90 L541.41,398.96 L542.27,399.02 L543.18,399.07 L544.13,399.12 L545.12,399.16 L546.15,399.20 L547.22,399.24 L548.32,399.27 L549.45,399.29 L550.60,399.32 L551.78,399.33 L552.97,399.35 L554.19,399.36 L555.41,399.37 L556.65,399.38 L557.89,399.39 L559.14,399.39 L560.39,399.39 L561.63,399.39 L562.87,399.38 L564.11,399.38 L565.33,399.37 L566.53,399.37 L567.72,399.36 L568.89,399.35 L570.04,399.34 L571.16,399.33 L572.25,399.33 L573.30,399.32 L574.32,399.31 L575.30,399.30 L576.24,399.29 L577.13,399.29 L577.98,399.28 L578.77,399.28 L579.51,399.28 L580.19,399.28 L580.81,399.28 L581.36,399.28" fill="none" stroke="#88dcaa" stroke-width="1.55" stroke-linejoin="round" stroke-linecap="round"/>
<circle cx="418.60" cy="414.18" r="1.61" fill="url(#ball)"/>
<circle cx="438.68" cy="408.88" r="1.90" fill="url(#ball)"/>
<circle cx="459.07" cy="360.50" r="1.90" fill="url(#ball)"/>
<circle cx="479.45" cy="351.10" r="1.90" fill="url(#ball)"/>
<circle cx="499.83" cy="375.98" r="1.90" fill="url(#ball)"/>
<circle cx="520.21" cy="394.19" r="1.90" fill="url(#ball)"/>
<circle cx="540.60" cy="398.90" r="1.90" fill="url(#ball)"/>
<circle cx="581.36" cy="399.28" r="1.90" fill="url(#ball)"/>
<path d="M402.97,434.99 L403.25,434.90 L403.56,434.81 L403.89,434.73 L404.24,434.66 L404.62,434.59 L405.02,434.53 L405.44,434.47 L405.87,434.42 L406.33,434.36 L406.81,434.31 L407.30,434.25 L407.80,434.19 L408.33,434.13 L408.86,434.06 L409.41,433.99 L409.97,433.91 L410.54,433.82 L411.12,433.73 L411.71,433.62 L412.31,433.50 L412.91,433.37 L413.52,433.22 L414.13,433.06 L414.75,432.88 L415.37,432.69 L415.99,432.48 L416.61,432.24 L417.23,431.99 L417.86,431.71 L418.47,431.42 L419.09,431.09 L419.70,430.74 L420.30,430.37 L420.90,429.96 L421.49,429.53 L422.08,429.07 L422.65,428.58 L423.22,428.05 L423.77,427.49 L424.31,426.90 L424.84,426.26 L425.37,425.56 L425.91,424.82 L426.44,424.03 L426.97,423.19 L427.51,422.31 L428.04,421.39 L428.57,420.43 L429.11,419.44 L429.64,418.42 L430.18,417.36 L430.71,416.28 L431.24,415.18 L431.78,414.05 L432.31,412.91 L432.84,411.75 L433.38,410.57 L433.91,409.39 L434.44,408.20 L434.98,407.00 L435.51,405.80 L436.04,404.60 L436.58,403.40 L437.11,402.21 L437.64,401.02 L438.18,399.85 L438.71,398.69 L439.24,397.54 L439.78,396.41 L440.31,395.31 L440.84,394.23 L441.38,393.17 L441.91,392.15 L442.44,391.15 L442.98,390.20 L443.51,389.27 L444.04,388.39 L444.58,387.55 L445.11,386.76 L445.64,386.01 L446.18,385.30 L446.71,384.59 L447.24,383.89 L447.78,383.20 L448.31,382.52 L448.84,381.86 L449.38,381.20 L449.91,380.56 L450.44,379.93 L450.98,379.31 L451.51,378.70 L452.04,378.11 L452.58,377.54 L453.11,376.98 L453.64,376.43 L454.18,375.90 L454.71,375.39 L455.24,374.89 L455.78,374.41 L456.31,373.95 L456.84,373.50 L457.38,373.08 L457.91,372.67 L458.44,372.29 L458.98,371.92 L459.51,371.58 L460.04,371.25 L460.58,370.95 L461.11,370.67 L461.65,370.42 L462.18,370.18 L462.71,369.97 L463.25,369.79 L463.78,369.63 L464.31,369.49 L464.85,369.38 L465.38,369.30 L465.91,369.24 L466.45,369.21 L466.98,369.21 L467.51,369.23 L468.05,369.30 L468.58,369.40 L469.11,369.53 L469.65,369.70 L470.18,369.90 L470.71,370.12 L471.25,370.38 L471.78,370.66 L472.31,370.97 L472.85,371.31 L473.38,371.67 L473.91,372.05 L474.45,372.45 L474.98,372.88 L475.51,373.32 L476.05,373.79 L476.58,374.27 L477.11,374.77 L477.65,375.28 L478.18,375.80 L478.71,376.34 L479.25,376.89 L479.78,377.45 L480.31,378.02 L480.85,378.60 L481.38,379.19 L481.91,379.78 L482.45,380.37 L482.98,380.97 L483.51,381.57 L484.05,382.18 L484.58,382.78 L485.11,383.38 L485.65,383.98 L486.18,384.58 L486.71,385.17 L487.25,385.75 L487.78,386.33 L488.31,386.90 L488.85,387.48 L489.38,388.10 L489.91,388.74 L490.45,389.41 L490.98,390.10 L491.52,390.81 L492.05,391.55 L492.58,392.31 L493.12,393.08 L493.65,393.86 L494.18,394.66 L494.72,395.47 L495.25,396.29 L495.78,397.12 L496.32,397.95 L496.85,398.78 L497.38,399.61 L497.92,400.45 L498.45,401.28 L498.98,402.10 L499.52,402.92 L500.05,403.73 L500.58,404.53 L501.12,405.31 L501.65,406.08 L502.18,406.84 L502.72,407.57 L503.25,408.29 L503.78,408.98 L504.32,409.64 L504.85,410.28 L505.38,410.89 L505.92,411.47 L506.45,412.02 L506.98,412.53 L507.52,413.01 L508.05,413.45 L508.58,413.84 L509.12,414.20 L509.65,414.51 L510.18,414.77 L510.69,415.00 L511.20,415.20 L511.69,415.36 L512.17,415.49 L512.65,415.59 L513.11,415.66 L513.58,415.70 L514.03,415.71 L514.48,415.70 L514.93,415.66 L515.38,415.60 L515.82,415.52 L516.27,415.41 L516.71,415.29 L517.16,415.15 L517.61,414.99 L518.06,414.82 L518.52,414.63 L518.98,414.43 L519.45,414.22 L519.93,414.00 L520.42,413.77 L520.92,413.54 L521.42,413.29 L521.94,413.04 L522.47,412.79 L523.02,412.54 L523.58,412.29 L524.15,412.03 L524.74,411.78 L525.35,411.53 L525.98,411.29 L526.63,411.05 L527.30,410.82 L527.99,410.59 L528.70,410.38 L529.44,410.18 L530.20,409.99 L530.99,409.81 L531.83,409.63 L532.74,409.45 L533.69,409.25 L534.68,409.04 L535.72,408.82 L536.80,408.60 L537.92,408.36 L539.07,408.13 L540.25,407.88 L541.46,407.63 L542.69,407.38 L543.94,407.12 L545.21,406.86 L546.49,406.59 L547.79,406.33 L549.09,406.06 L550.39,405.79 L551.70,405.52 L553.00,405.25 L554.30,404.99 L555.59,404.72 L556.87,404.46 L558.14,404.20 L559.38,403.94 L560.61,403.69 L561.80,403.44 L562.97,403.20 L564.11,402.97 L565.22,402.74 L566.29,402.53 L567.31,402.31 L568.29,402.11 L569.23,401.92 L570.11,401.74 L570.94,401.57 L571.72,401.41 L572.43,401.26 L573.08,401.13 L573.66,401.01" fill="none" stroke="#80aef0" stroke-width="1.55" stroke-linejoin="round" stroke-linecap="round"/>
<circle cx="403.27" cy="434.99" r="1.61" fill="url(#ball)"/>
<circle cx="424.31" cy="426.90" r="1.90" fill="url(#ball)"/>
<circle cx="445.64" cy="386.01" r="1.90" fill="url(#ball)"/>
<circle cx="466.98" cy="369.21" r="1.90" fill="url(#ball)"/>
<circle cx="488.31" cy="386.90" r="1.90" fill="url(#ball)"/>
<circle cx="509.65" cy="414.51" r="1.90" fill="url(#ball)"/>
<circle cx="530.99" cy="409.81" r="1.90" fill="url(#ball)"/>
<circle cx="573.66" cy="401.01" r="1.90" fill="url(#ball)"/>
<path d="M386.13,454.90 L386.42,454.84 L386.74,454.79 L387.09,454.75 L387.46,454.73 L387.86,454.71 L388.28,454.70 L388.71,454.70 L389.17,454.70 L389.65,454.71 L390.15,454.72 L390.67,454.73 L391.20,454.74 L391.75,454.75 L392.31,454.76 L392.88,454.76 L393.47,454.76 L394.07,454.75 L394.68,454.73 L395.30,454.70 L395.92,454.66 L396.56,454.60 L397.19,454.53 L397.84,454.45 L398.49,454.35 L399.14,454.23 L399.79,454.09 L400.44,453.93 L401.09,453.75 L401.74,453.54 L402.39,453.31 L403.04,453.05 L403.68,452.77 L404.31,452.45 L404.94,452.11 L405.56,451.73 L406.17,451.31 L406.78,450.87 L407.37,450.38 L407.95,449.86 L408.51,449.30 L409.07,448.69 L409.63,448.02 L410.19,447.30 L410.75,446.54 L411.31,445.72 L411.87,444.86 L412.43,443.96 L412.99,443.01 L413.55,442.03 L414.11,441.02 L414.67,439.98 L415.23,438.91 L415.79,437.81 L416.35,436.69 L416.91,435.55 L417.47,434.39 L418.03,433.21 L418.59,432.03 L419.14,430.83 L419.70,429.63 L420.26,428.43 L420.82,427.22 L421.38,426.02 L421.94,424.82 L422.50,423.62 L423.06,422.44 L423.62,421.27 L424.18,420.11 L424.74,418.97 L425.30,417.85 L425.86,416.76 L426.42,415.69 L426.98,414.65 L427.54,413.64 L428.10,412.66 L428.66,411.72 L429.22,410.83 L429.78,409.97 L430.34,409.16 L430.90,408.39 L431.46,407.66 L432.01,406.94 L432.57,406.24 L433.13,405.55 L433.69,404.87 L434.25,404.20 L434.81,403.55 L435.37,402.92 L435.93,402.29 L436.49,401.69 L437.05,401.09 L437.61,400.51 L438.17,399.94 L438.73,399.39 L439.29,398.85 L439.85,398.33 L440.41,397.82 L440.97,397.32 L441.53,396.84 L442.09,396.38 L442.65,395.92 L443.21,395.49 L443.77,395.07 L444.33,394.66 L444.88,394.27 L445.44,393.89 L446.00,393.52 L446.56,393.18 L447.12,392.84 L447.68,392.53 L448.24,392.22 L448.80,391.94 L449.36,391.67 L449.92,391.41 L450.48,391.17 L451.04,390.94 L451.60,390.73 L452.16,390.54 L452.72,390.36 L453.28,390.20 L453.84,390.05 L454.40,389.90 L454.96,389.77 L455.52,389.65 L456.08,389.54 L456.64,389.44 L457.20,389.35 L457.76,389.27 L458.31,389.21 L458.87,389.16 L459.43,389.12 L459.99,389.09 L460.55,389.08 L461.11,389.09 L461.67,389.11 L462.23,389.15 L462.79,389.20 L463.35,389.27 L463.91,389.35 L464.47,389.46 L465.03,389.58 L465.59,389.72 L466.15,389.88 L466.71,390.06 L467.27,390.26 L467.83,390.48 L468.39,390.72 L468.95,390.98 L469.51,391.27 L470.07,391.58 L470.63,391.91 L471.18,392.26 L471.74,392.64 L472.30,393.04 L472.86,393.47 L473.42,393.92 L473.98,394.40 L474.54,394.90 L475.10,395.44 L475.66,395.99 L476.22,396.60 L476.78,397.27 L477.34,398.01 L477.90,398.80 L478.46,399.65 L479.02,400.56 L479.58,401.51 L480.14,402.50 L480.70,403.54 L481.26,404.61 L481.82,405.71 L482.38,406.85 L482.94,408.01 L483.50,409.20 L484.05,410.40 L484.61,411.62 L485.17,412.85 L485.73,414.09 L486.29,415.33 L486.85,416.57 L487.41,417.82 L487.97,419.05 L488.53,420.27 L489.09,421.48 L489.65,422.68 L490.21,423.85 L490.77,425.00 L491.33,426.11 L491.89,427.20 L492.45,428.25 L493.01,429.26 L493.57,430.23 L494.13,431.15 L494.69,432.02 L495.25,432.84 L495.81,433.60 L496.37,434.30 L496.92,434.94 L497.48,435.50 L498.04,436.00 L498.60,436.43 L499.14,436.80 L499.66,437.12 L500.18,437.40 L500.69,437.63 L501.19,437.81 L501.68,437.95 L502.16,438.04 L502.64,438.10 L503.11,438.13 L503.59,438.11 L504.05,438.07 L504.52,438.00 L504.99,437.89 L505.45,437.77 L505.92,437.62 L506.39,437.44 L506.87,437.25 L507.35,437.04 L507.84,436.82 L508.33,436.58 L508.83,436.34 L509.34,436.08 L509.86,435.82 L510.39,435.55 L510.94,435.28 L511.49,435.01 L512.07,434.75 L512.65,434.49 L513.26,434.23 L513.88,433.99 L514.52,433.75 L515.18,433.53 L515.86,433.32 L516.56,433.13 L517.28,432.96 L518.03,432.81 L518.80,432.69 L519.60,432.59 L520.43,432.52 L521.32,432.46 L522.26,432.41 L523.26,432.36 L524.30,432.31 L525.40,432.26 L526.53,432.22 L527.70,432.18 L528.91,432.14 L530.15,432.10 L531.41,432.06 L532.70,432.03 L534.02,431.99 L535.35,431.96 L536.69,431.94 L538.05,431.91 L539.42,431.88 L540.79,431.86 L542.16,431.83 L543.53,431.81 L544.89,431.79 L546.24,431.77 L547.58,431.75 L548.91,431.73 L550.22,431.72 L551.50,431.70 L552.76,431.69 L553.99,431.67 L555.18,431.66 L556.34,431.64 L557.46,431.63 L558.54,431.62 L559.57,431.61 L560.55,431.59 L561.47,431.58 L562.34,431.57 L563.15,431.56 L563.90,431.54 L564.58,431.53 L565.19,431.52" fill="none" stroke="#f28080" stroke-width="1.55" stroke-linejoin="round" stroke-linecap="round"/>
<circle cx="386.43" cy="454.90" r="1.61" fill="url(#ball)"/>
<circle cx="408.51" cy="449.30" r="1.90" fill="url(#ball)"/>
<circle cx="430.90" cy="408.39" r="1.90" fill="url(#ball)"/>
<circle cx="453.28" cy="390.20" r="1.90" fill="url(#ball)"/>
<circle cx="475.66" cy="395.99" r="1.90" fill="url(#ball)"/>
<circle cx="498.04" cy="436.00" r="1.90" fill="url(#ball)"/>
<circle cx="520.43" cy="432.52" r="1.90" fill="url(#ball)"/>
<circle cx="565.19" cy="431.52" r="1.90" fill="url(#ball)"/>
<path d="M367.54,477.80 L367.85,477.63 L368.19,477.47 L368.55,477.31 L368.94,477.16 L369.36,477.00 L369.79,476.85 L370.26,476.69 L370.74,476.54 L371.24,476.38 L371.77,476.21 L372.31,476.04 L372.87,475.87 L373.45,475.69 L374.04,475.50 L374.64,475.30 L375.26,475.09 L375.89,474.87 L376.53,474.63 L377.18,474.39 L377.84,474.13 L378.50,473.85 L379.17,473.56 L379.85,473.26 L380.53,472.93 L381.22,472.58 L381.90,472.22 L382.59,471.83 L383.27,471.42 L383.96,470.99 L384.64,470.53 L385.32,470.05 L385.99,469.54 L386.66,469.01 L387.32,468.44 L387.97,467.85 L388.62,467.22 L389.25,466.57 L389.87,465.88 L390.48,465.16 L391.08,464.40 L391.67,463.60 L392.25,462.74 L392.84,461.82 L393.43,460.85 L394.02,459.84 L394.61,458.78 L395.20,457.67 L395.79,456.52 L396.37,455.34 L396.96,454.12 L397.55,452.87 L398.14,451.59 L398.73,450.29 L399.32,448.96 L399.90,447.61 L400.49,446.25 L401.08,444.87 L401.67,443.48 L402.26,442.08 L402.85,440.68 L403.44,439.27 L404.02,437.87 L404.61,436.46 L405.20,435.07 L405.79,433.68 L406.38,432.30 L406.97,430.94 L407.55,429.60 L408.14,428.28 L408.73,426.98 L409.32,425.71 L409.91,424.46 L410.50,423.25 L411.09,422.07 L411.67,420.94 L412.26,419.84 L412.85,418.79 L413.44,417.78 L414.03,416.82 L414.62,415.92 L415.20,415.04 L415.79,414.17 L416.38,413.30 L416.97,412.43 L417.56,411.58 L418.15,410.72 L418.74,409.88 L419.32,409.05 L419.91,408.23 L420.50,407.42 L421.09,406.62 L421.68,405.84 L422.27,405.07 L422.85,404.32 L423.44,403.58 L424.03,402.87 L424.62,402.17 L425.21,401.50 L425.80,400.84 L426.39,400.21 L426.97,399.61 L427.56,399.03 L428.15,398.47 L428.74,397.95 L429.33,397.45 L429.92,396.98 L430.50,396.55 L431.09,396.14 L431.68,395.77 L432.27,395.44 L432.86,395.14 L433.45,394.87 L434.04,394.65 L434.62,394.46 L435.21,394.31 L435.80,394.21 L436.39,394.14 L436.98,394.12 L437.57,394.15 L438.15,394.22 L438.74,394.34 L439.33,394.53 L439.92,394.77 L440.51,395.07 L441.10,395.42 L441.69,395.82 L442.27,396.27 L442.86,396.76 L443.45,397.30 L444.04,397.88 L444.63,398.50 L445.22,399.16 L445.80,399.86 L446.39,400.58 L446.98,401.34 L447.57,402.12 L448.16,402.93 L448.75,403.76 L449.34,404.62 L449.92,405.49 L450.51,406.38 L451.10,407.28 L451.69,408.20 L452.28,409.13 L452.87,410.06 L453.45,411.00 L454.04,411.94 L454.63,412.88 L455.22,413.82 L455.81,414.76 L456.40,415.69 L456.99,416.61 L457.57,417.52 L458.16,418.42 L458.75,419.30 L459.34,420.17 L459.93,421.02 L460.52,421.84 L461.10,422.64 L461.69,423.41 L462.28,424.18 L462.87,424.98 L463.46,425.80 L464.05,426.63 L464.64,427.49 L465.22,428.36 L465.81,429.25 L466.40,430.15 L466.99,431.07 L467.58,431.99 L468.17,432.92 L468.75,433.85 L469.34,434.79 L469.93,435.73 L470.52,436.68 L471.11,437.61 L471.70,438.55 L472.29,439.48 L472.87,440.41 L473.46,441.32 L474.05,442.23 L474.64,443.12 L475.23,443.99 L475.82,444.86 L476.40,445.70 L476.99,446.52 L477.58,447.32 L478.17,448.10 L478.76,448.85 L479.35,449.57 L479.94,450.27 L480.52,450.93 L481.11,451.56 L481.70,452.16 L482.29,452.72 L482.88,453.24 L483.47,453.72 L484.05,454.16 L484.64,454.56 L485.23,454.91 L485.81,455.21 L486.38,455.46 L486.94,455.67 L487.48,455.83 L488.01,455.95 L488.54,456.03 L489.05,456.07 L489.56,456.08 L490.07,456.05 L490.56,455.99 L491.06,455.90 L491.55,455.78 L492.04,455.64 L492.53,455.47 L493.02,455.28 L493.52,455.07 L494.01,454.85 L494.51,454.61 L495.02,454.35 L495.53,454.08 L496.05,453.81 L496.58,453.52 L497.11,453.23 L497.66,452.94 L498.22,452.65 L498.79,452.36 L499.38,452.07 L499.98,451.78 L500.60,451.51 L501.23,451.24 L501.88,450.98 L502.56,450.74 L503.25,450.51 L503.96,450.30 L504.70,450.11 L505.46,449.94 L506.25,449.79 L507.06,449.67 L507.90,449.58 L508.77,449.52 L509.71,449.47 L510.70,449.44 L511.75,449.42 L512.85,449.40 L514.00,449.39 L515.19,449.39 L516.42,449.40 L517.69,449.42 L518.99,449.44 L520.32,449.47 L521.68,449.51 L523.06,449.55 L524.46,449.59 L525.88,449.64 L527.30,449.69 L528.74,449.75 L530.18,449.81 L531.62,449.88 L533.06,449.94 L534.49,450.01 L535.92,450.08 L537.33,450.15 L538.72,450.23 L540.10,450.30 L541.45,450.37 L542.77,450.44 L544.06,450.51 L545.32,450.58 L546.54,450.65 L547.71,450.71 L548.85,450.77 L549.93,450.83 L550.96,450.88 L551.94,450.94 L552.85,450.98 L553.70,451.02 L554.49,451.06 L555.20,451.09 L555.85,451.11" fill="none" stroke="#9a9a9a" stroke-width="1.55" stroke-linejoin="round" stroke-linecap="round"/>
<circle cx="367.54" cy="477.80" r="1.90" fill="url(#ball)"/>
<circle cx="391.08" cy="464.40" r="1.90" fill="url(#ball)"/>
<circle cx="414.62" cy="415.92" r="1.90" fill="url(#ball)"/>
<circle cx="438.15" cy="394.22" r="1.90" fill="url(#ball)"/>
<circle cx="461.69" cy="423.41" r="1.90" fill="url(#ball)"/>
<circle cx="485.23" cy="454.91" r="1.90" fill="url(#ball)"/>
<circle cx="508.77" cy="449.52" r="1.90" fill="url(#ball)"/>
<circle cx="555.85" cy="451.11" r="1.90" fill="url(#ball)"/>
<line x1="357.50" y1="542.20" x2="357.50" y2="385.50" stroke="#8a8a8a" stroke-width="1.8" />
<line x1="357.50" y1="542.20" x2="550.80" y2="542.20" stroke="#484848" stroke-width="1.5" />
<line x1="550.80" y1="542.20" x2="597.90" y2="418.30" stroke="#3a3a3a" stroke-width="1.3" />
<line x1="353.50" y1="542.20" x2="357.50" y2="542.20" stroke="#444444" stroke-width="1.2" />
<text x="351.20" y="546.00" text-anchor="end" class="ser sl" font-size="8.2">0</text>
<line x1="353.50" y1="507.38" x2="357.50" y2="507.38" stroke="#444444" stroke-width="1.2" />
<text x="351.20" y="511.18" text-anchor="end" class="ser sl" font-size="8.2">10</text>
<line x1="353.50" y1="472.56" x2="357.50" y2="472.56" stroke="#444444" stroke-width="1.2" />
<text x="351.20" y="476.36" text-anchor="end" class="ser sl" font-size="8.2">20</text>
<line x1="353.50" y1="437.73" x2="357.50" y2="437.73" stroke="#444444" stroke-width="1.2" />
<text x="351.20" y="441.53" text-anchor="end" class="ser sl" font-size="8.2">30</text>
<line x1="353.50" y1="402.91" x2="357.50" y2="402.91" stroke="#444444" stroke-width="1.2" />
<text x="351.20" y="406.71" text-anchor="end" class="ser sl" font-size="8.2">40</text>
<line x1="355.00" y1="524.79" x2="357.50" y2="524.79" stroke="#444444" stroke-width="1.0" />
<line x1="355.00" y1="489.97" x2="357.50" y2="489.97" stroke="#444444" stroke-width="1.0" />
<line x1="355.00" y1="455.14" x2="357.50" y2="455.14" stroke="#444444" stroke-width="1.0" />
<line x1="355.00" y1="420.32" x2="357.50" y2="420.32" stroke="#444444" stroke-width="1.0" />
<line x1="355.00" y1="385.50" x2="357.50" y2="385.50" stroke="#444444" stroke-width="1.0" />
<line x1="357.50" y1="542.20" x2="357.50" y2="546.20" stroke="#444444" stroke-width="1.2" />
<text x="357.50" y="557.20" text-anchor="middle" class="ser sl" font-size="8">0. 1</text>
<line x1="405.82" y1="542.20" x2="405.82" y2="546.20" stroke="#444444" stroke-width="1.2" />
<text x="405.82" y="557.20" text-anchor="middle" class="ser sl" font-size="8">0. 2</text>
<line x1="454.15" y1="542.20" x2="454.15" y2="546.20" stroke="#444444" stroke-width="1.2" />
<text x="454.15" y="557.20" text-anchor="middle" class="ser sl" font-size="8">0. 3</text>
<line x1="502.48" y1="542.20" x2="502.48" y2="546.20" stroke="#444444" stroke-width="1.2" />
<text x="502.48" y="557.20" text-anchor="middle" class="ser sl" font-size="8">0. 4</text>
<line x1="550.80" y1="542.20" x2="550.80" y2="546.20" stroke="#444444" stroke-width="1.2" />
<text x="550.80" y="557.20" text-anchor="middle" class="ser sl" font-size="8">0. 5</text>
<line x1="381.66" y1="542.20" x2="381.66" y2="544.70" stroke="#444444" stroke-width="1.0" />
<line x1="429.99" y1="542.20" x2="429.99" y2="544.70" stroke="#444444" stroke-width="1.0" />
<line x1="478.31" y1="542.20" x2="478.31" y2="544.70" stroke="#444444" stroke-width="1.0" />
<line x1="526.64" y1="542.20" x2="526.64" y2="544.70" stroke="#444444" stroke-width="1.0" />
<line x1="555.85" y1="528.93" x2="559.85" y2="528.93" stroke="#444444" stroke-width="1.1" />
<text x="561.98" y="532.53" class="ser sl" font-size="7.50">1. 0</text>
<line x1="565.19" y1="504.34" x2="569.19" y2="504.34" stroke="#444444" stroke-width="1.1" />
<text x="571.03" y="507.77" class="ser sl" font-size="7.14">1. 1</text>
<line x1="573.66" y1="482.07" x2="577.66" y2="482.07" stroke="#444444" stroke-width="1.1" />
<text x="579.22" y="485.34" class="ser sl" font-size="6.80">1. 2</text>
<line x1="581.36" y1="461.80" x2="585.36" y2="461.80" stroke="#444444" stroke-width="1.1" />
<text x="586.68" y="464.93" class="ser sl" font-size="6.50">1. 3</text>
<line x1="588.40" y1="443.28" x2="592.40" y2="443.28" stroke="#444444" stroke-width="1.1" />
<text x="593.50" y="446.27" class="ser sl" font-size="6.22">1. 4</text>
<line x1="594.87" y1="426.28" x2="598.87" y2="426.28" stroke="#444444" stroke-width="1.1" />
<text x="599.75" y="429.15" class="ser sl" font-size="5.97">1. 5</text>
<line x1="560.64" y1="516.32" x2="563.14" y2="516.32" stroke="#444444" stroke-width="0.9" />
<line x1="569.53" y1="492.94" x2="572.03" y2="492.94" stroke="#444444" stroke-width="0.9" />
<line x1="577.60" y1="471.71" x2="580.10" y2="471.71" stroke="#444444" stroke-width="0.9" />
<line x1="584.96" y1="452.34" x2="587.46" y2="452.34" stroke="#444444" stroke-width="0.9" />
<line x1="591.70" y1="434.60" x2="594.20" y2="434.60" stroke="#444444" stroke-width="0.9" />

<text class="ser t" font-size="10.7" transform="translate(70,164.85) rotate(-90)" text-anchor="middle">Minimum bearing contact (MN)</text>
<text class="ser t" font-size="10.3" x="187.3" y="271.1" text-anchor="middle">Incentive cycle (g)</text>
<text class="ser t" font-size="16" x="271.3" y="291.1">(a)</text>
<text class="ser t" font-size="10.8" transform="translate(388.6,162.7) rotate(-90)" text-anchor="middle">Minimum bearing contact (MN)</text>
<text class="ser t" font-size="10.35" x="506.1" y="270.1" text-anchor="middle">Incentive cycle (g)</text>
<text class="ser t" font-size="16" x="450" y="291.8">(b)</text>
<text class="ser t" font-size="10.85" transform="translate(13.2,465.1) rotate(-90)" text-anchor="middle">Maximum bearing contact (MN)</text>
<text class="ser t" font-size="10.0" x="134.6" y="576.6" text-anchor="middle">Incentive cycle (s)</text>
<text class="ser t" font-size="16" x="273.3" y="593.6">(c)</text>
<text class="ser t" font-size="10.88" transform="translate(334.6,464.3) rotate(-90)" text-anchor="middle">Maximum bearing contact (MN)</text>
<text class="ser t" font-size="10.1" x="454.8" y="574.3" text-anchor="middle">Incentive cycle (g)</text>
<text class="ser t" font-size="16" x="447.8" y="593.6">(d)</text>

<text class="ser sp" font-size="9.0" transform="matrix(0.2280,-0.7459,1,0,326.5,207.5)">Span ratio</text>
<text class="ser sp" font-size="9.0" transform="matrix(0.2280,-0.7459,1,0,339,207.5)">(middle span / side span)</text>
<text class="ser sp" font-size="9.0" transform="matrix(0.2280,-0.7459,1,0,647.5,207)">Span ratio</text>
<text class="ser sp" font-size="9.0" transform="matrix(0.2280,-0.7459,1,0,660.5,207)">(middle span / side span)</text>
<text class="ser sp" font-size="8.0" transform="matrix(0.2339,-0.7650,1,0,275,505.2)">Span ratio</text>
<text class="ser sp" font-size="8.0" transform="matrix(0.2339,-0.7650,1,0,287,506)">(middle span / side span)</text>
<text class="ser sp" font-size="8.0" transform="matrix(0.2339,-0.7650,1,0,592,504.8)">Span ratio</text>
<text class="ser sp" font-size="8.0" transform="matrix(0.2339,-0.7650,1,0,602.5,505.2)">(middle span / side span)</text>
</svg>
</body></html>
